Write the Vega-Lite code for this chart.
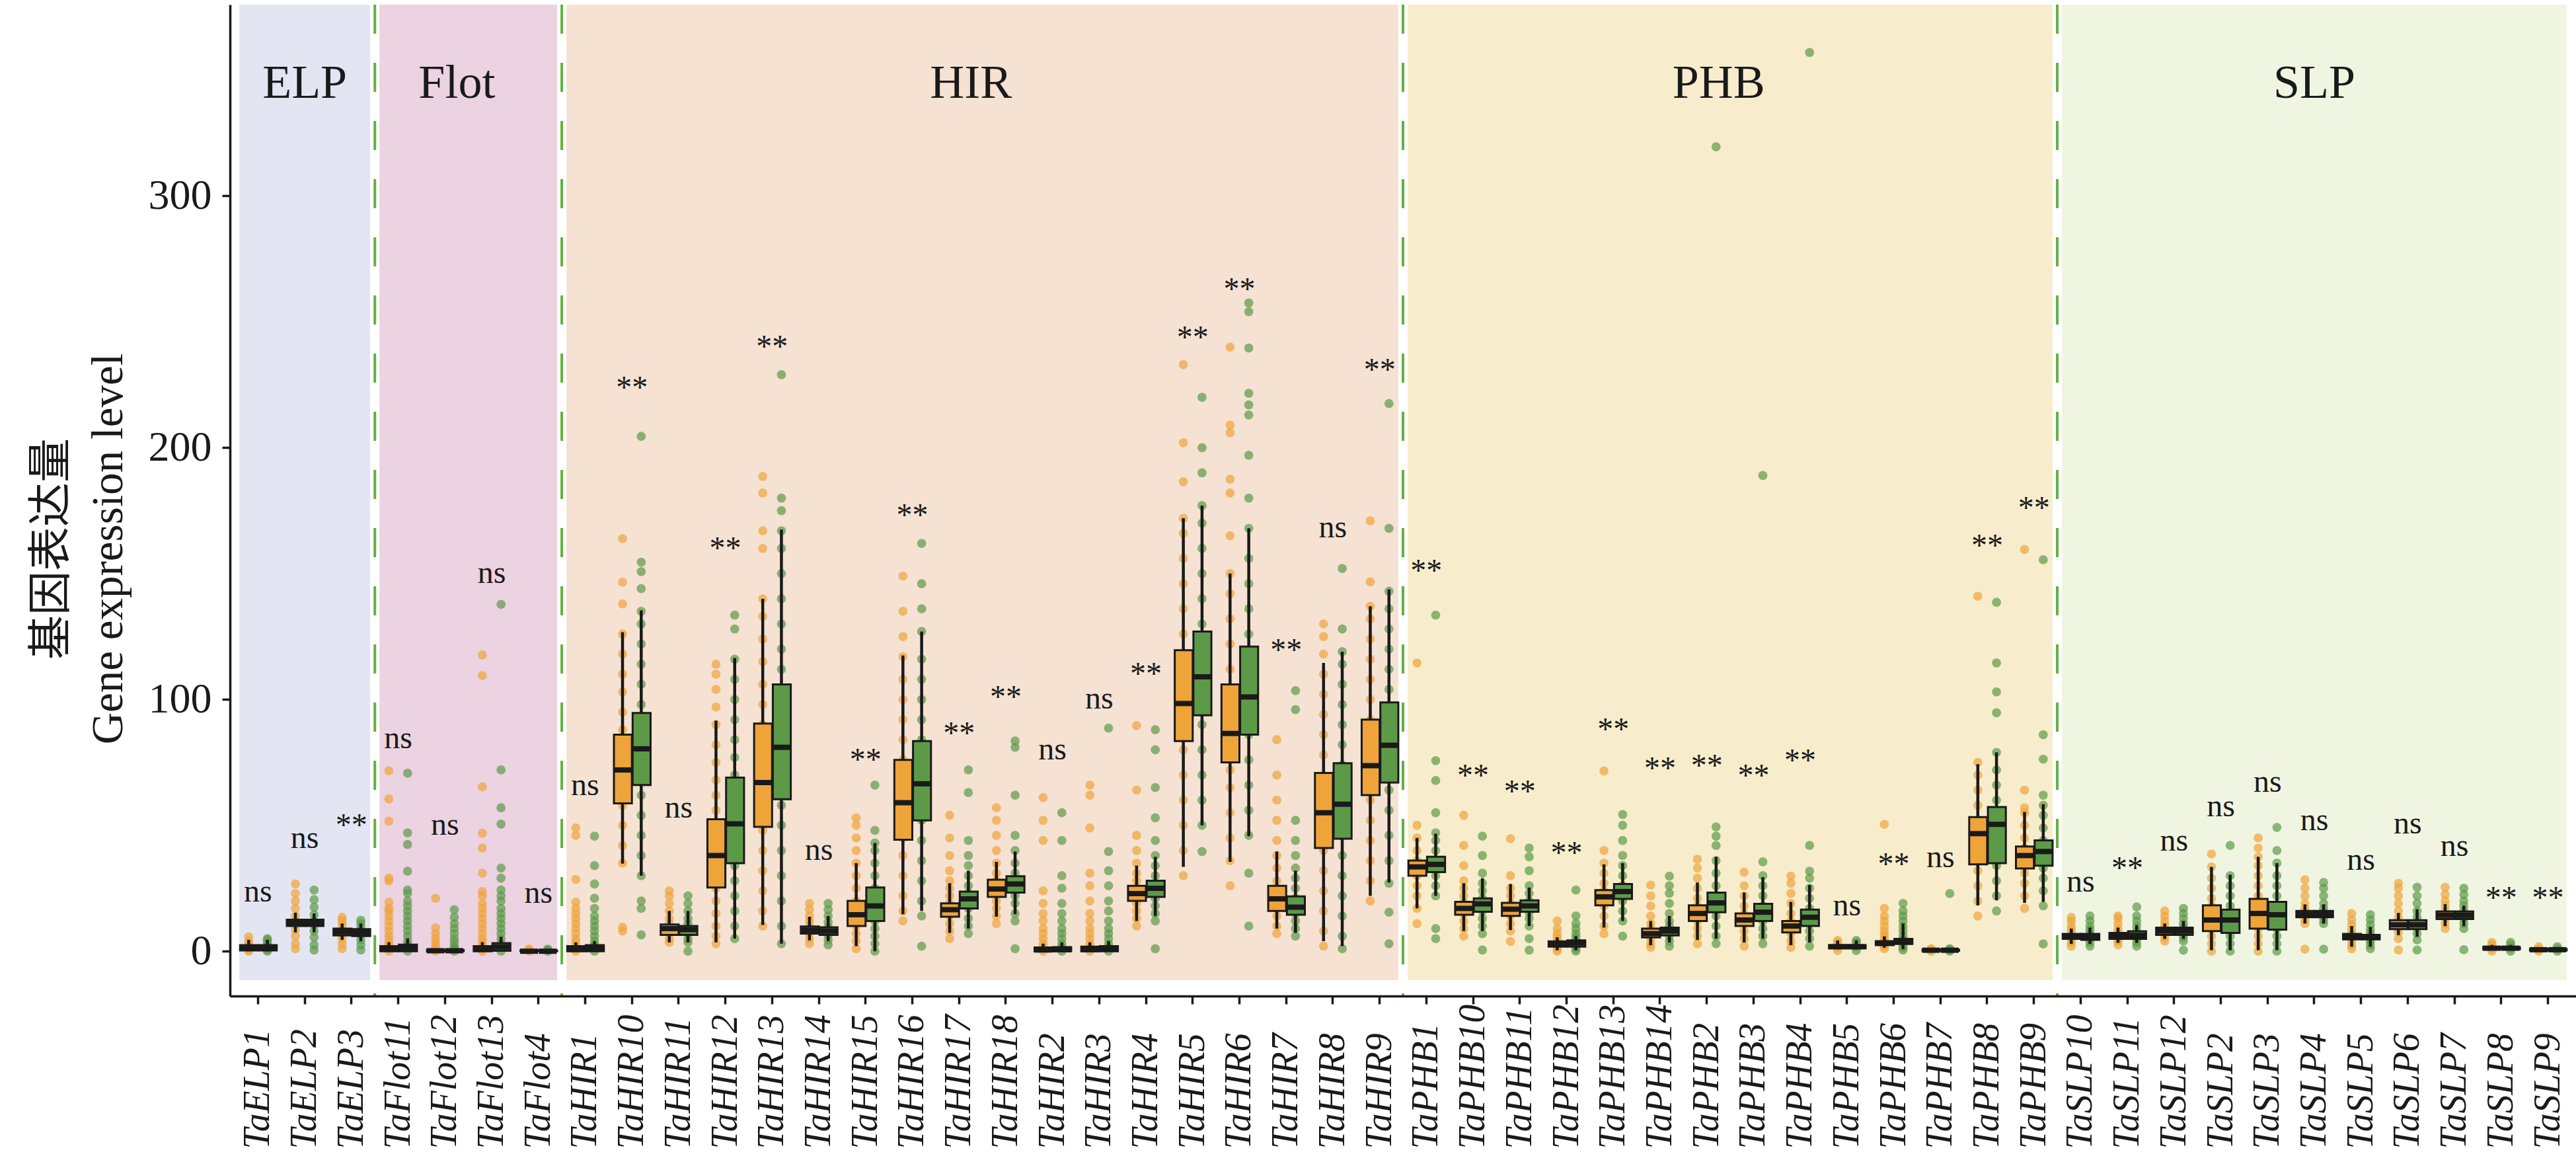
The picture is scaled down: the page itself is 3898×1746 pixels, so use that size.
{
  "$schema": "https://vega.github.io/schema/vega-lite/v6.json",
  "width": 3550,
  "height": 1500,
  "autosize": {"type": "none"},
  "padding": {"left": 348, "top": 7, "right": 0, "bottom": 239},
  "background": "white",
  "datasets": {
    "families": [
      {"family": "ELP", "first": "TaELP1", "last": "TaELP3", "mid": "TaELP2"},
      {"family": "Flot", "first": "TaFlot11", "last": "TaFlot4", "mid": "TaFlot12"},
      {"family": "HIR", "first": "TaHIR1", "last": "TaHIR9", "mid": "TaHIR17"},
      {"family": "PHB", "first": "TaPHB1", "last": "TaPHB9", "mid": "TaPHB2"},
      {"family": "SLP", "first": "TaSLP10", "last": "TaSLP9", "mid": "TaSLP4"}
    ],
    "boxes": [
      {"gene": "TaELP1", "grp": "1", "lo": 0, "q1": 0.3, "med": 1.1, "q3": 2.4, "hi": 4.5},
      {"gene": "TaELP1", "grp": "2", "lo": 0, "q1": 0.3, "med": 1.1, "q3": 2.4, "hi": 4.5},
      {"gene": "TaELP2", "grp": "1", "lo": 7.5, "q1": 10, "med": 11.3, "q3": 12.5, "hi": 15.3},
      {"gene": "TaELP2", "grp": "2", "lo": 7.5, "q1": 10, "med": 11.3, "q3": 12.5, "hi": 15},
      {"gene": "TaELP3", "grp": "1", "lo": 4.5, "q1": 6.3, "med": 7.7, "q3": 9, "hi": 11},
      {"gene": "TaELP3", "grp": "2", "lo": 4, "q1": 6, "med": 7.4, "q3": 8.8, "hi": 11},
      {"gene": "TaFlot11", "grp": "1", "lo": 0, "q1": 0, "med": 0.8, "q3": 2, "hi": 3.6},
      {"gene": "TaFlot11", "grp": "2", "lo": 0, "q1": 0, "med": 1.4, "q3": 2.6, "hi": 5},
      {"gene": "TaFlot12", "grp": "1", "lo": 0, "q1": 0, "med": 0.2, "q3": 0.5, "hi": 1},
      {"gene": "TaFlot12", "grp": "2", "lo": 0, "q1": 0, "med": 0.2, "q3": 0.5, "hi": 1},
      {"gene": "TaFlot13", "grp": "1", "lo": 0, "q1": 0, "med": 0.8, "q3": 2, "hi": 3.6},
      {"gene": "TaFlot13", "grp": "2", "lo": 0, "q1": 0.2, "med": 1.7, "q3": 3.2, "hi": 5.7},
      {"gene": "TaFlot4", "grp": "1", "lo": 0, "q1": 0, "med": 0, "q3": 0.3, "hi": 0.6},
      {"gene": "TaFlot4", "grp": "2", "lo": 0, "q1": 0, "med": 0, "q3": 0.3, "hi": 0.6},
      {"gene": "TaHIR1", "grp": "1", "lo": 0, "q1": 0, "med": 0.8, "q3": 2, "hi": 3.5},
      {"gene": "TaHIR1", "grp": "2", "lo": 0, "q1": 0, "med": 1.2, "q3": 2.4, "hi": 4},
      {"gene": "TaHIR10", "grp": "1", "lo": 34.8, "q1": 58.7, "med": 72, "q3": 86, "hi": 126.7},
      {"gene": "TaHIR10", "grp": "2", "lo": 30, "q1": 66, "med": 80.4, "q3": 94.6, "hi": 135.4},
      {"gene": "TaHIR11", "grp": "1", "lo": 3.5, "q1": 6.5, "med": 9, "q3": 10.6, "hi": 16},
      {"gene": "TaHIR11", "grp": "2", "lo": 3.5, "q1": 6.5, "med": 8.6, "q3": 10, "hi": 16},
      {"gene": "TaHIR12", "grp": "1", "lo": 3.5, "q1": 25.3, "med": 38, "q3": 52.4, "hi": 91.6},
      {"gene": "TaHIR12", "grp": "2", "lo": 5, "q1": 35, "med": 50.6, "q3": 69, "hi": 116.5},
      {"gene": "TaHIR13", "grp": "1", "lo": 10.4, "q1": 49.4, "med": 67, "q3": 90.4, "hi": 140},
      {"gene": "TaHIR13", "grp": "2", "lo": 3, "q1": 60.4, "med": 81, "q3": 106, "hi": 167.5},
      {"gene": "TaHIR14", "grp": "1", "lo": 4.3, "q1": 7, "med": 8.4, "q3": 9.8, "hi": 13.7},
      {"gene": "TaHIR14", "grp": "2", "lo": 4, "q1": 6.5, "med": 8, "q3": 9.5, "hi": 14},
      {"gene": "TaHIR15", "grp": "1", "lo": 2, "q1": 10, "med": 14.5, "q3": 20, "hi": 35},
      {"gene": "TaHIR15", "grp": "2", "lo": 0, "q1": 12, "med": 18, "q3": 25.3, "hi": 43},
      {"gene": "TaHIR16", "grp": "1", "lo": 14.7, "q1": 44.3, "med": 59, "q3": 76, "hi": 117.5},
      {"gene": "TaHIR16", "grp": "2", "lo": 16, "q1": 52, "med": 66.5, "q3": 83.5, "hi": 127},
      {"gene": "TaHIR17", "grp": "1", "lo": 7.3, "q1": 13.7, "med": 16.5, "q3": 19, "hi": 27},
      {"gene": "TaHIR17", "grp": "2", "lo": 9, "q1": 17, "med": 20.8, "q3": 23.7, "hi": 32},
      {"gene": "TaHIR18", "grp": "1", "lo": 13.7, "q1": 21.6, "med": 24.7, "q3": 28.4, "hi": 35.5},
      {"gene": "TaHIR18", "grp": "2", "lo": 14.7, "q1": 23.3, "med": 26.7, "q3": 29.8, "hi": 39.6},
      {"gene": "TaHIR2", "grp": "1", "lo": 0, "q1": 0, "med": 0.5, "q3": 1.5, "hi": 3},
      {"gene": "TaHIR2", "grp": "2", "lo": 0, "q1": 0, "med": 0.6, "q3": 1.6, "hi": 3.5},
      {"gene": "TaHIR3", "grp": "1", "lo": 0, "q1": 0, "med": 0.6, "q3": 1.8, "hi": 3.5},
      {"gene": "TaHIR3", "grp": "2", "lo": 0, "q1": 0, "med": 0.8, "q3": 2, "hi": 4},
      {"gene": "TaHIR4", "grp": "1", "lo": 12, "q1": 20, "med": 22.9, "q3": 26, "hi": 34},
      {"gene": "TaHIR4", "grp": "2", "lo": 14, "q1": 21.6, "med": 25, "q3": 28, "hi": 37.5},
      {"gene": "TaHIR5", "grp": "1", "lo": 33.5, "q1": 83.5, "med": 98.4, "q3": 119.6, "hi": 172},
      {"gene": "TaHIR5", "grp": "2", "lo": 50, "q1": 93.7, "med": 109, "q3": 127, "hi": 177},
      {"gene": "TaHIR6", "grp": "1", "lo": 35.5, "q1": 75, "med": 86.5, "q3": 106, "hi": 150},
      {"gene": "TaHIR6", "grp": "2", "lo": 45.7, "q1": 86, "med": 101, "q3": 121, "hi": 168},
      {"gene": "TaHIR7", "grp": "1", "lo": 9, "q1": 16, "med": 20.8, "q3": 26, "hi": 39.6},
      {"gene": "TaHIR7", "grp": "2", "lo": 7.3, "q1": 14.5, "med": 17.5, "q3": 21.8, "hi": 32},
      {"gene": "TaHIR8", "grp": "1", "lo": 4, "q1": 41, "med": 55, "q3": 70.8, "hi": 114.5},
      {"gene": "TaHIR8", "grp": "2", "lo": 2, "q1": 44.7, "med": 58.4, "q3": 74.7, "hi": 119},
      {"gene": "TaHIR9", "grp": "1", "lo": 22, "q1": 62, "med": 73.7, "q3": 92, "hi": 137},
      {"gene": "TaHIR9", "grp": "2", "lo": 27.3, "q1": 67, "med": 81.8, "q3": 98.8, "hi": 143.7},
      {"gene": "TaPHB1", "grp": "1", "lo": 17, "q1": 30, "med": 33.5, "q3": 36, "hi": 45},
      {"gene": "TaPHB1", "grp": "2", "lo": 22, "q1": 31.4, "med": 34.5, "q3": 37.5, "hi": 46.7},
      {"gene": "TaPHB10", "grp": "1", "lo": 8, "q1": 14.5, "med": 17, "q3": 19.6, "hi": 27},
      {"gene": "TaPHB10", "grp": "2", "lo": 8, "q1": 15.7, "med": 18.8, "q3": 21, "hi": 29},
      {"gene": "TaPHB11", "grp": "1", "lo": 8.4, "q1": 14, "med": 16.7, "q3": 19.2, "hi": 26.7},
      {"gene": "TaPHB11", "grp": "2", "lo": 10, "q1": 15.7, "med": 18, "q3": 20.2, "hi": 25.3},
      {"gene": "TaPHB12", "grp": "1", "lo": 0.4, "q1": 1.8, "med": 2.9, "q3": 3.9, "hi": 5.5},
      {"gene": "TaPHB12", "grp": "2", "lo": 0.4, "q1": 1.8, "med": 3.3, "q3": 4.3, "hi": 6},
      {"gene": "TaPHB13", "grp": "1", "lo": 9.4, "q1": 18.2, "med": 21.6, "q3": 24.3, "hi": 34.5},
      {"gene": "TaPHB13", "grp": "2", "lo": 12, "q1": 20.8, "med": 23.7, "q3": 26.7, "hi": 35},
      {"gene": "TaPHB14", "grp": "1", "lo": 2.4, "q1": 5.5, "med": 7, "q3": 9, "hi": 12},
      {"gene": "TaPHB14", "grp": "2", "lo": 3.5, "q1": 6.3, "med": 8, "q3": 9.4, "hi": 14},
      {"gene": "TaPHB2", "grp": "1", "lo": 4.5, "q1": 12, "med": 15, "q3": 18.2, "hi": 27.3},
      {"gene": "TaPHB2", "grp": "2", "lo": 5, "q1": 15.5, "med": 19.2, "q3": 23.3, "hi": 37.5},
      {"gene": "TaPHB3", "grp": "1", "lo": 3.5, "q1": 10, "med": 12.4, "q3": 15, "hi": 23.3},
      {"gene": "TaPHB3", "grp": "2", "lo": 5, "q1": 12, "med": 15.5, "q3": 18.8, "hi": 29.4},
      {"gene": "TaPHB4", "grp": "1", "lo": 2.4, "q1": 7.5, "med": 10, "q3": 12, "hi": 19.6},
      {"gene": "TaPHB4", "grp": "2", "lo": 3.5, "q1": 10, "med": 13.5, "q3": 16.5, "hi": 26.3},
      {"gene": "TaPHB5", "grp": "1", "lo": 0.8, "q1": 1.2, "med": 1.8, "q3": 2.4, "hi": 4.3},
      {"gene": "TaPHB5", "grp": "2", "lo": 0.8, "q1": 1.2, "med": 1.8, "q3": 2.4, "hi": 4.3},
      {"gene": "TaPHB6", "grp": "1", "lo": 1.4, "q1": 2.4, "med": 3.3, "q3": 3.9, "hi": 5.9},
      {"gene": "TaPHB6", "grp": "2", "lo": 0.8, "q1": 2.9, "med": 3.9, "q3": 4.9, "hi": 11},
      {"gene": "TaPHB7", "grp": "1", "lo": 0, "q1": 0.2, "med": 0.4, "q3": 0.6, "hi": 1},
      {"gene": "TaPHB7", "grp": "2", "lo": 0, "q1": 0.2, "med": 0.4, "q3": 0.6, "hi": 1},
      {"gene": "TaPHB8", "grp": "1", "lo": 18.2, "q1": 34.5, "med": 46.7, "q3": 53.3, "hi": 74.3},
      {"gene": "TaPHB8", "grp": "2", "lo": 20.2, "q1": 35, "med": 50.4, "q3": 57.3, "hi": 79},
      {"gene": "TaPHB9", "grp": "1", "lo": 19.2, "q1": 32.9, "med": 38, "q3": 41.6, "hi": 55.3},
      {"gene": "TaPHB9", "grp": "2", "lo": 19.6, "q1": 34, "med": 39.6, "q3": 44, "hi": 58.4},
      {"gene": "TaSLP10", "grp": "1", "lo": 2.9, "q1": 4.9, "med": 5.9, "q3": 6.9, "hi": 9},
      {"gene": "TaSLP10", "grp": "2", "lo": 2.9, "q1": 4.5, "med": 5.7, "q3": 6.9, "hi": 9.4},
      {"gene": "TaSLP11", "grp": "1", "lo": 3.3, "q1": 4.9, "med": 6, "q3": 7.3, "hi": 9.4},
      {"gene": "TaSLP11", "grp": "2", "lo": 3.3, "q1": 4.9, "med": 6.3, "q3": 7.9, "hi": 10.4},
      {"gene": "TaSLP12", "grp": "1", "lo": 4.9, "q1": 6.5, "med": 8, "q3": 9.4, "hi": 11},
      {"gene": "TaSLP12", "grp": "2", "lo": 4.9, "q1": 6.5, "med": 8, "q3": 9.4, "hi": 12},
      {"gene": "TaSLP2", "grp": "1", "lo": 0.4, "q1": 8, "med": 12.4, "q3": 18.2, "hi": 33.5},
      {"gene": "TaSLP2", "grp": "2", "lo": 0.4, "q1": 7.3, "med": 12.4, "q3": 16.5, "hi": 30.4},
      {"gene": "TaSLP3", "grp": "1", "lo": 0.4, "q1": 9, "med": 15, "q3": 20.8, "hi": 37.5},
      {"gene": "TaSLP3", "grp": "2", "lo": 0.4, "q1": 8.6, "med": 14.5, "q3": 19.6, "hi": 35},
      {"gene": "TaSLP4", "grp": "1", "lo": 11, "q1": 13.5, "med": 14.7, "q3": 16, "hi": 18.6},
      {"gene": "TaSLP4", "grp": "2", "lo": 11, "q1": 13.5, "med": 14.7, "q3": 16, "hi": 18.6},
      {"gene": "TaSLP5", "grp": "1", "lo": 1.8, "q1": 4.7, "med": 5.7, "q3": 6.9, "hi": 10},
      {"gene": "TaSLP5", "grp": "2", "lo": 1.8, "q1": 4.7, "med": 5.5, "q3": 6.5, "hi": 9.6},
      {"gene": "TaSLP6", "grp": "1", "lo": 6.4, "q1": 8.8, "med": 10.5, "q3": 12.3, "hi": 15.2},
      {"gene": "TaSLP6", "grp": "2", "lo": 5.8, "q1": 8.8, "med": 10.5, "q3": 12.3, "hi": 16.7},
      {"gene": "TaSLP7", "grp": "1", "lo": 10, "q1": 12.8, "med": 14.3, "q3": 15.8, "hi": 18.7},
      {"gene": "TaSLP7", "grp": "2", "lo": 10, "q1": 12.8, "med": 14.3, "q3": 15.8, "hi": 18.1},
      {"gene": "TaSLP8", "grp": "1", "lo": 0.3, "q1": 0.8, "med": 1.2, "q3": 1.6, "hi": 2.5},
      {"gene": "TaSLP8", "grp": "2", "lo": 0.3, "q1": 0.8, "med": 1.2, "q3": 1.6, "hi": 2.5},
      {"gene": "TaSLP9", "grp": "1", "lo": 0, "q1": 0.3, "med": 0.6, "q3": 0.9, "hi": 1.5},
      {"gene": "TaSLP9", "grp": "2", "lo": 0, "q1": 0.3, "med": 0.6, "q3": 0.9, "hi": 1.5}
    ],
    "sig": [
      {"gene": "TaELP1", "label": "ns", "y": 19.8},
      {"gene": "TaELP2", "label": "ns", "y": 40.9},
      {"gene": "TaELP3", "label": "**", "y": 46},
      {"gene": "TaFlot11", "label": "ns", "y": 80.7},
      {"gene": "TaFlot12", "label": "ns", "y": 46.3},
      {"gene": "TaFlot13", "label": "ns", "y": 146.3},
      {"gene": "TaFlot4", "label": "ns", "y": 19.3},
      {"gene": "TaHIR1", "label": "ns", "y": 62},
      {"gene": "TaHIR10", "label": "**", "y": 219.7},
      {"gene": "TaHIR11", "label": "ns", "y": 53},
      {"gene": "TaHIR12", "label": "**", "y": 156},
      {"gene": "TaHIR13", "label": "**", "y": 236},
      {"gene": "TaHIR14", "label": "ns", "y": 36.3},
      {"gene": "TaHIR15", "label": "**", "y": 72},
      {"gene": "TaHIR16", "label": "**", "y": 169},
      {"gene": "TaHIR17", "label": "**", "y": 82.6},
      {"gene": "TaHIR18", "label": "**", "y": 97},
      {"gene": "TaHIR2", "label": "ns", "y": 76.3},
      {"gene": "TaHIR3", "label": "ns", "y": 96.3},
      {"gene": "TaHIR4", "label": "**", "y": 106},
      {"gene": "TaHIR5", "label": "**", "y": 239.7},
      {"gene": "TaHIR6", "label": "**", "y": 259},
      {"gene": "TaHIR7", "label": "**", "y": 115.6},
      {"gene": "TaHIR8", "label": "ns", "y": 164.3},
      {"gene": "TaHIR9", "label": "**", "y": 227},
      {"gene": "TaPHB1", "label": "**", "y": 147},
      {"gene": "TaPHB10", "label": "**", "y": 65.6},
      {"gene": "TaPHB11", "label": "**", "y": 59.5},
      {"gene": "TaPHB12", "label": "**", "y": 35},
      {"gene": "TaPHB13", "label": "**", "y": 84},
      {"gene": "TaPHB14", "label": "**", "y": 68.7},
      {"gene": "TaPHB2", "label": "**", "y": 69.7},
      {"gene": "TaPHB3", "label": "**", "y": 65.6},
      {"gene": "TaPHB4", "label": "**", "y": 71.8},
      {"gene": "TaPHB5", "label": "ns", "y": 14.3},
      {"gene": "TaPHB6", "label": "**", "y": 30.5},
      {"gene": "TaPHB7", "label": "ns", "y": 33.3},
      {"gene": "TaPHB8", "label": "**", "y": 157},
      {"gene": "TaPHB9", "label": "**", "y": 172},
      {"gene": "TaSLP10", "label": "ns", "y": 23.6},
      {"gene": "TaSLP11", "label": "**", "y": 29},
      {"gene": "TaSLP12", "label": "ns", "y": 39.9},
      {"gene": "TaSLP2", "label": "ns", "y": 53.6},
      {"gene": "TaSLP3", "label": "ns", "y": 63.3},
      {"gene": "TaSLP4", "label": "ns", "y": 48.1},
      {"gene": "TaSLP5", "label": "ns", "y": 32.3},
      {"gene": "TaSLP6", "label": "ns", "y": 46.7},
      {"gene": "TaSLP7", "label": "ns", "y": 37.9},
      {"gene": "TaSLP8", "label": "**", "y": 17},
      {"gene": "TaSLP9", "label": "**", "y": 17}
    ],
    "points": [
      {"gene":"TaELP1","grp":"1","v":0},{"gene":"TaELP1","grp":"1","v":0.5},{"gene":"TaELP1","grp":"1","v":1},{"gene":"TaELP1","grp":"1","v":1.5},{"gene":"TaELP1","grp":"1","v":2.2},{"gene":"TaELP1","grp":"1","v":3},{"gene":"TaELP1","grp":"1","v":4},{"gene":"TaELP1","grp":"1","v":5.7},
      {"gene":"TaELP1","grp":"2","v":0},{"gene":"TaELP1","grp":"2","v":0.6},{"gene":"TaELP1","grp":"2","v":1.2},{"gene":"TaELP1","grp":"2","v":1.8},{"gene":"TaELP1","grp":"2","v":2.5},{"gene":"TaELP1","grp":"2","v":3.3},{"gene":"TaELP1","grp":"2","v":4.5},{"gene":"TaELP1","grp":"2","v":5},
      {"gene":"TaELP2","grp":"1","v":1},{"gene":"TaELP2","grp":"1","v":3},{"gene":"TaELP2","grp":"1","v":6},{"gene":"TaELP2","grp":"1","v":8.5},{"gene":"TaELP2","grp":"1","v":10.5},{"gene":"TaELP2","grp":"1","v":12},{"gene":"TaELP2","grp":"1","v":14},{"gene":"TaELP2","grp":"1","v":17},{"gene":"TaELP2","grp":"1","v":20},{"gene":"TaELP2","grp":"1","v":23},{"gene":"TaELP2","grp":"1","v":26.7},
      {"gene":"TaELP2","grp":"2","v":0.5},{"gene":"TaELP2","grp":"2","v":2.5},{"gene":"TaELP2","grp":"2","v":5.5},{"gene":"TaELP2","grp":"2","v":8},{"gene":"TaELP2","grp":"2","v":10.5},{"gene":"TaELP2","grp":"2","v":12},{"gene":"TaELP2","grp":"2","v":14.5},{"gene":"TaELP2","grp":"2","v":17.5},{"gene":"TaELP2","grp":"2","v":20.5},{"gene":"TaELP2","grp":"2","v":24.3},
      {"gene":"TaELP3","grp":"1","v":1},{"gene":"TaELP3","grp":"1","v":3},{"gene":"TaELP3","grp":"1","v":5},{"gene":"TaELP3","grp":"1","v":6.5},{"gene":"TaELP3","grp":"1","v":8},{"gene":"TaELP3","grp":"1","v":9.5},{"gene":"TaELP3","grp":"1","v":11},{"gene":"TaELP3","grp":"1","v":12.3},{"gene":"TaELP3","grp":"1","v":13.5},
      {"gene":"TaELP3","grp":"2","v":0.5},{"gene":"TaELP3","grp":"2","v":2.5},{"gene":"TaELP3","grp":"2","v":4.5},{"gene":"TaELP3","grp":"2","v":6.5},{"gene":"TaELP3","grp":"2","v":8},{"gene":"TaELP3","grp":"2","v":9.5},{"gene":"TaELP3","grp":"2","v":11},{"gene":"TaELP3","grp":"2","v":12.3},
      {"gene":"TaFlot11","grp":"1","v":0},{"gene":"TaFlot11","grp":"1","v":1},{"gene":"TaFlot11","grp":"1","v":2},{"gene":"TaFlot11","grp":"1","v":3},{"gene":"TaFlot11","grp":"1","v":4.5},{"gene":"TaFlot11","grp":"1","v":6},{"gene":"TaFlot11","grp":"1","v":8},{"gene":"TaFlot11","grp":"1","v":10},{"gene":"TaFlot11","grp":"1","v":12},{"gene":"TaFlot11","grp":"1","v":14},{"gene":"TaFlot11","grp":"1","v":16},{"gene":"TaFlot11","grp":"1","v":17},{"gene":"TaFlot11","grp":"1","v":19.5},{"gene":"TaFlot11","grp":"1","v":28},{"gene":"TaFlot11","grp":"1","v":29},{"gene":"TaFlot11","grp":"1","v":51.7},{"gene":"TaFlot11","grp":"1","v":60.5},{"gene":"TaFlot11","grp":"1","v":71.7},
      {"gene":"TaFlot11","grp":"2","v":0},{"gene":"TaFlot11","grp":"2","v":1.5},{"gene":"TaFlot11","grp":"2","v":2.5},{"gene":"TaFlot11","grp":"2","v":4},{"gene":"TaFlot11","grp":"2","v":6},{"gene":"TaFlot11","grp":"2","v":8},{"gene":"TaFlot11","grp":"2","v":10},{"gene":"TaFlot11","grp":"2","v":12},{"gene":"TaFlot11","grp":"2","v":14},{"gene":"TaFlot11","grp":"2","v":16},{"gene":"TaFlot11","grp":"2","v":18},{"gene":"TaFlot11","grp":"2","v":20},{"gene":"TaFlot11","grp":"2","v":23},{"gene":"TaFlot11","grp":"2","v":24.3},{"gene":"TaFlot11","grp":"2","v":31.8},{"gene":"TaFlot11","grp":"2","v":42.4},{"gene":"TaFlot11","grp":"2","v":47},{"gene":"TaFlot11","grp":"2","v":70.7},
      {"gene":"TaFlot12","grp":"1","v":0},{"gene":"TaFlot12","grp":"1","v":1},{"gene":"TaFlot12","grp":"1","v":2},{"gene":"TaFlot12","grp":"1","v":3.5},{"gene":"TaFlot12","grp":"1","v":5},{"gene":"TaFlot12","grp":"1","v":7},{"gene":"TaFlot12","grp":"1","v":9.3},{"gene":"TaFlot12","grp":"1","v":21},
      {"gene":"TaFlot12","grp":"2","v":0},{"gene":"TaFlot12","grp":"2","v":1},{"gene":"TaFlot12","grp":"2","v":2},{"gene":"TaFlot12","grp":"2","v":3.5},{"gene":"TaFlot12","grp":"2","v":5},{"gene":"TaFlot12","grp":"2","v":7},{"gene":"TaFlot12","grp":"2","v":9},{"gene":"TaFlot12","grp":"2","v":11},{"gene":"TaFlot12","grp":"2","v":13.5},{"gene":"TaFlot12","grp":"2","v":16.5},
      {"gene":"TaFlot13","grp":"1","v":0},{"gene":"TaFlot13","grp":"1","v":1},{"gene":"TaFlot13","grp":"1","v":2},{"gene":"TaFlot13","grp":"1","v":3.5},{"gene":"TaFlot13","grp":"1","v":5},{"gene":"TaFlot13","grp":"1","v":7},{"gene":"TaFlot13","grp":"1","v":9},{"gene":"TaFlot13","grp":"1","v":11},{"gene":"TaFlot13","grp":"1","v":13},{"gene":"TaFlot13","grp":"1","v":15},{"gene":"TaFlot13","grp":"1","v":17},{"gene":"TaFlot13","grp":"1","v":19},{"gene":"TaFlot13","grp":"1","v":22},{"gene":"TaFlot13","grp":"1","v":23.7},{"gene":"TaFlot13","grp":"1","v":31},{"gene":"TaFlot13","grp":"1","v":41},{"gene":"TaFlot13","grp":"1","v":46.9},{"gene":"TaFlot13","grp":"1","v":65.3},{"gene":"TaFlot13","grp":"1","v":109.5},{"gene":"TaFlot13","grp":"1","v":117.7},
      {"gene":"TaFlot13","grp":"2","v":0},{"gene":"TaFlot13","grp":"2","v":1.5},{"gene":"TaFlot13","grp":"2","v":3},{"gene":"TaFlot13","grp":"2","v":5},{"gene":"TaFlot13","grp":"2","v":7},{"gene":"TaFlot13","grp":"2","v":9},{"gene":"TaFlot13","grp":"2","v":11},{"gene":"TaFlot13","grp":"2","v":13},{"gene":"TaFlot13","grp":"2","v":15},{"gene":"TaFlot13","grp":"2","v":17},{"gene":"TaFlot13","grp":"2","v":20},{"gene":"TaFlot13","grp":"2","v":22},{"gene":"TaFlot13","grp":"2","v":24.3},{"gene":"TaFlot13","grp":"2","v":29},{"gene":"TaFlot13","grp":"2","v":33},{"gene":"TaFlot13","grp":"2","v":50.5},{"gene":"TaFlot13","grp":"2","v":57},{"gene":"TaFlot13","grp":"2","v":72},{"gene":"TaFlot13","grp":"2","v":137.8},
      {"gene":"TaFlot4","grp":"1","v":0},{"gene":"TaFlot4","grp":"1","v":0.5},{"gene":"TaFlot4","grp":"1","v":0.9},
      {"gene":"TaFlot4","grp":"2","v":0},{"gene":"TaFlot4","grp":"2","v":0.5},{"gene":"TaFlot4","grp":"2","v":0.8},
      {"gene":"TaHIR1","grp":"1","v":0},{"gene":"TaHIR1","grp":"1","v":1},{"gene":"TaHIR1","grp":"1","v":2},{"gene":"TaHIR1","grp":"1","v":3.5},{"gene":"TaHIR1","grp":"1","v":5},{"gene":"TaHIR1","grp":"1","v":7},{"gene":"TaHIR1","grp":"1","v":9},{"gene":"TaHIR1","grp":"1","v":11},{"gene":"TaHIR1","grp":"1","v":13},{"gene":"TaHIR1","grp":"1","v":15},{"gene":"TaHIR1","grp":"1","v":17},{"gene":"TaHIR1","grp":"1","v":19.5},{"gene":"TaHIR1","grp":"1","v":28.5},{"gene":"TaHIR1","grp":"1","v":46},{"gene":"TaHIR1","grp":"1","v":49},
      {"gene":"TaHIR1","grp":"2","v":0},{"gene":"TaHIR1","grp":"2","v":1.5},{"gene":"TaHIR1","grp":"2","v":2.5},{"gene":"TaHIR1","grp":"2","v":4},{"gene":"TaHIR1","grp":"2","v":6},{"gene":"TaHIR1","grp":"2","v":8},{"gene":"TaHIR1","grp":"2","v":10},{"gene":"TaHIR1","grp":"2","v":12},{"gene":"TaHIR1","grp":"2","v":14},{"gene":"TaHIR1","grp":"2","v":17},{"gene":"TaHIR1","grp":"2","v":21},{"gene":"TaHIR1","grp":"2","v":26.7},{"gene":"TaHIR1","grp":"2","v":34},{"gene":"TaHIR1","grp":"2","v":45.7},
      {"gene":"TaHIR10","grp":"1","v":8},{"gene":"TaHIR10","grp":"1","v":9.5},{"gene":"TaHIR10","grp":"1","v":35},{"gene":"TaHIR10","grp":"1","v":42},{"gene":"TaHIR10","grp":"1","v":50},{"gene":"TaHIR10","grp":"1","v":58},{"gene":"TaHIR10","grp":"1","v":64},{"gene":"TaHIR10","grp":"1","v":70},{"gene":"TaHIR10","grp":"1","v":76},{"gene":"TaHIR10","grp":"1","v":82},{"gene":"TaHIR10","grp":"1","v":88},{"gene":"TaHIR10","grp":"1","v":95},{"gene":"TaHIR10","grp":"1","v":103},{"gene":"TaHIR10","grp":"1","v":110},{"gene":"TaHIR10","grp":"1","v":118},{"gene":"TaHIR10","grp":"1","v":126},{"gene":"TaHIR10","grp":"1","v":138},{"gene":"TaHIR10","grp":"1","v":146.6},{"gene":"TaHIR10","grp":"1","v":163.9},
      {"gene":"TaHIR10","grp":"2","v":6.5},{"gene":"TaHIR10","grp":"2","v":17},{"gene":"TaHIR10","grp":"2","v":20},{"gene":"TaHIR10","grp":"2","v":30},{"gene":"TaHIR10","grp":"2","v":38},{"gene":"TaHIR10","grp":"2","v":46},{"gene":"TaHIR10","grp":"2","v":54},{"gene":"TaHIR10","grp":"2","v":62},{"gene":"TaHIR10","grp":"2","v":68},{"gene":"TaHIR10","grp":"2","v":74},{"gene":"TaHIR10","grp":"2","v":80},{"gene":"TaHIR10","grp":"2","v":86},{"gene":"TaHIR10","grp":"2","v":92},{"gene":"TaHIR10","grp":"2","v":98},{"gene":"TaHIR10","grp":"2","v":106},{"gene":"TaHIR10","grp":"2","v":114},{"gene":"TaHIR10","grp":"2","v":122},{"gene":"TaHIR10","grp":"2","v":130},{"gene":"TaHIR10","grp":"2","v":135},{"gene":"TaHIR10","grp":"2","v":144},{"gene":"TaHIR10","grp":"2","v":150.8},{"gene":"TaHIR10","grp":"2","v":154.5},{"gene":"TaHIR10","grp":"2","v":204.5},
      {"gene":"TaHIR11","grp":"1","v":3.5},{"gene":"TaHIR11","grp":"1","v":5},{"gene":"TaHIR11","grp":"1","v":7},{"gene":"TaHIR11","grp":"1","v":9},{"gene":"TaHIR11","grp":"1","v":11},{"gene":"TaHIR11","grp":"1","v":13},{"gene":"TaHIR11","grp":"1","v":16},{"gene":"TaHIR11","grp":"1","v":19},{"gene":"TaHIR11","grp":"1","v":22},{"gene":"TaHIR11","grp":"1","v":24},
      {"gene":"TaHIR11","grp":"2","v":0},{"gene":"TaHIR11","grp":"2","v":3.5},{"gene":"TaHIR11","grp":"2","v":5},{"gene":"TaHIR11","grp":"2","v":7},{"gene":"TaHIR11","grp":"2","v":9},{"gene":"TaHIR11","grp":"2","v":11},{"gene":"TaHIR11","grp":"2","v":13},{"gene":"TaHIR11","grp":"2","v":16},{"gene":"TaHIR11","grp":"2","v":19},{"gene":"TaHIR11","grp":"2","v":22},
      {"gene":"TaHIR12","grp":"1","v":3},{"gene":"TaHIR12","grp":"1","v":6},{"gene":"TaHIR12","grp":"1","v":10},{"gene":"TaHIR12","grp":"1","v":15},{"gene":"TaHIR12","grp":"1","v":20},{"gene":"TaHIR12","grp":"1","v":25},{"gene":"TaHIR12","grp":"1","v":30},{"gene":"TaHIR12","grp":"1","v":35},{"gene":"TaHIR12","grp":"1","v":40},{"gene":"TaHIR12","grp":"1","v":45},{"gene":"TaHIR12","grp":"1","v":50},{"gene":"TaHIR12","grp":"1","v":56},{"gene":"TaHIR12","grp":"1","v":62},{"gene":"TaHIR12","grp":"1","v":68},{"gene":"TaHIR12","grp":"1","v":75},{"gene":"TaHIR12","grp":"1","v":82},{"gene":"TaHIR12","grp":"1","v":90},{"gene":"TaHIR12","grp":"1","v":97},{"gene":"TaHIR12","grp":"1","v":104},{"gene":"TaHIR12","grp":"1","v":110},{"gene":"TaHIR12","grp":"1","v":114},
      {"gene":"TaHIR12","grp":"2","v":5},{"gene":"TaHIR12","grp":"2","v":10},{"gene":"TaHIR12","grp":"2","v":16},{"gene":"TaHIR12","grp":"2","v":22},{"gene":"TaHIR12","grp":"2","v":28},{"gene":"TaHIR12","grp":"2","v":34},{"gene":"TaHIR12","grp":"2","v":40},{"gene":"TaHIR12","grp":"2","v":46},{"gene":"TaHIR12","grp":"2","v":52},{"gene":"TaHIR12","grp":"2","v":58},{"gene":"TaHIR12","grp":"2","v":64},{"gene":"TaHIR12","grp":"2","v":70},{"gene":"TaHIR12","grp":"2","v":77},{"gene":"TaHIR12","grp":"2","v":84},{"gene":"TaHIR12","grp":"2","v":92},{"gene":"TaHIR12","grp":"2","v":100},{"gene":"TaHIR12","grp":"2","v":108},{"gene":"TaHIR12","grp":"2","v":116},{"gene":"TaHIR12","grp":"2","v":128},{"gene":"TaHIR12","grp":"2","v":133.5},
      {"gene":"TaHIR13","grp":"1","v":10},{"gene":"TaHIR13","grp":"1","v":16},{"gene":"TaHIR13","grp":"1","v":24},{"gene":"TaHIR13","grp":"1","v":32},{"gene":"TaHIR13","grp":"1","v":40},{"gene":"TaHIR13","grp":"1","v":48},{"gene":"TaHIR13","grp":"1","v":55},{"gene":"TaHIR13","grp":"1","v":62},{"gene":"TaHIR13","grp":"1","v":68},{"gene":"TaHIR13","grp":"1","v":75},{"gene":"TaHIR13","grp":"1","v":82},{"gene":"TaHIR13","grp":"1","v":90},{"gene":"TaHIR13","grp":"1","v":98},{"gene":"TaHIR13","grp":"1","v":106},{"gene":"TaHIR13","grp":"1","v":115},{"gene":"TaHIR13","grp":"1","v":124},{"gene":"TaHIR13","grp":"1","v":133},{"gene":"TaHIR13","grp":"1","v":140},{"gene":"TaHIR13","grp":"1","v":160},{"gene":"TaHIR13","grp":"1","v":167},{"gene":"TaHIR13","grp":"1","v":182},{"gene":"TaHIR13","grp":"1","v":188.6},
      {"gene":"TaHIR13","grp":"2","v":3},{"gene":"TaHIR13","grp":"2","v":10},{"gene":"TaHIR13","grp":"2","v":20},{"gene":"TaHIR13","grp":"2","v":30},{"gene":"TaHIR13","grp":"2","v":40},{"gene":"TaHIR13","grp":"2","v":50},{"gene":"TaHIR13","grp":"2","v":58},{"gene":"TaHIR13","grp":"2","v":65},{"gene":"TaHIR13","grp":"2","v":72},{"gene":"TaHIR13","grp":"2","v":80},{"gene":"TaHIR13","grp":"2","v":88},{"gene":"TaHIR13","grp":"2","v":96},{"gene":"TaHIR13","grp":"2","v":104},{"gene":"TaHIR13","grp":"2","v":112},{"gene":"TaHIR13","grp":"2","v":120},{"gene":"TaHIR13","grp":"2","v":130},{"gene":"TaHIR13","grp":"2","v":140},{"gene":"TaHIR13","grp":"2","v":150},{"gene":"TaHIR13","grp":"2","v":160},{"gene":"TaHIR13","grp":"2","v":167},{"gene":"TaHIR13","grp":"2","v":175},{"gene":"TaHIR13","grp":"2","v":180},{"gene":"TaHIR13","grp":"2","v":229},
      {"gene":"TaHIR14","grp":"1","v":3},{"gene":"TaHIR14","grp":"1","v":5},{"gene":"TaHIR14","grp":"1","v":7},{"gene":"TaHIR14","grp":"1","v":8.5},{"gene":"TaHIR14","grp":"1","v":10},{"gene":"TaHIR14","grp":"1","v":12},{"gene":"TaHIR14","grp":"1","v":14},{"gene":"TaHIR14","grp":"1","v":16.5},{"gene":"TaHIR14","grp":"1","v":19},
      {"gene":"TaHIR14","grp":"2","v":2.5},{"gene":"TaHIR14","grp":"2","v":4.5},{"gene":"TaHIR14","grp":"2","v":6.5},{"gene":"TaHIR14","grp":"2","v":8},{"gene":"TaHIR14","grp":"2","v":9.5},{"gene":"TaHIR14","grp":"2","v":11.5},{"gene":"TaHIR14","grp":"2","v":14},{"gene":"TaHIR14","grp":"2","v":16.5},{"gene":"TaHIR14","grp":"2","v":19},
      {"gene":"TaHIR15","grp":"1","v":1},{"gene":"TaHIR15","grp":"1","v":4},{"gene":"TaHIR15","grp":"1","v":7},{"gene":"TaHIR15","grp":"1","v":10},{"gene":"TaHIR15","grp":"1","v":13},{"gene":"TaHIR15","grp":"1","v":16},{"gene":"TaHIR15","grp":"1","v":20},{"gene":"TaHIR15","grp":"1","v":25},{"gene":"TaHIR15","grp":"1","v":30},{"gene":"TaHIR15","grp":"1","v":35},{"gene":"TaHIR15","grp":"1","v":40},{"gene":"TaHIR15","grp":"1","v":45},{"gene":"TaHIR15","grp":"1","v":50},{"gene":"TaHIR15","grp":"1","v":53},
      {"gene":"TaHIR15","grp":"2","v":0},{"gene":"TaHIR15","grp":"2","v":3},{"gene":"TaHIR15","grp":"2","v":6},{"gene":"TaHIR15","grp":"2","v":9},{"gene":"TaHIR15","grp":"2","v":12},{"gene":"TaHIR15","grp":"2","v":16},{"gene":"TaHIR15","grp":"2","v":20},{"gene":"TaHIR15","grp":"2","v":25},{"gene":"TaHIR15","grp":"2","v":30},{"gene":"TaHIR15","grp":"2","v":35},{"gene":"TaHIR15","grp":"2","v":40},{"gene":"TaHIR15","grp":"2","v":43},{"gene":"TaHIR15","grp":"2","v":48},{"gene":"TaHIR15","grp":"2","v":66},
      {"gene":"TaHIR16","grp":"1","v":12},{"gene":"TaHIR16","grp":"1","v":16},{"gene":"TaHIR16","grp":"1","v":22},{"gene":"TaHIR16","grp":"1","v":30},{"gene":"TaHIR16","grp":"1","v":38},{"gene":"TaHIR16","grp":"1","v":45},{"gene":"TaHIR16","grp":"1","v":52},{"gene":"TaHIR16","grp":"1","v":58},{"gene":"TaHIR16","grp":"1","v":64},{"gene":"TaHIR16","grp":"1","v":70},{"gene":"TaHIR16","grp":"1","v":76},{"gene":"TaHIR16","grp":"1","v":84},{"gene":"TaHIR16","grp":"1","v":92},{"gene":"TaHIR16","grp":"1","v":100},{"gene":"TaHIR16","grp":"1","v":108},{"gene":"TaHIR16","grp":"1","v":117},{"gene":"TaHIR16","grp":"1","v":125},{"gene":"TaHIR16","grp":"1","v":135},{"gene":"TaHIR16","grp":"1","v":149},
      {"gene":"TaHIR16","grp":"2","v":2},{"gene":"TaHIR16","grp":"2","v":14},{"gene":"TaHIR16","grp":"2","v":20},{"gene":"TaHIR16","grp":"2","v":28},{"gene":"TaHIR16","grp":"2","v":36},{"gene":"TaHIR16","grp":"2","v":44},{"gene":"TaHIR16","grp":"2","v":52},{"gene":"TaHIR16","grp":"2","v":60},{"gene":"TaHIR16","grp":"2","v":66},{"gene":"TaHIR16","grp":"2","v":72},{"gene":"TaHIR16","grp":"2","v":78},{"gene":"TaHIR16","grp":"2","v":84},{"gene":"TaHIR16","grp":"2","v":92},{"gene":"TaHIR16","grp":"2","v":100},{"gene":"TaHIR16","grp":"2","v":108},{"gene":"TaHIR16","grp":"2","v":116},{"gene":"TaHIR16","grp":"2","v":127},{"gene":"TaHIR16","grp":"2","v":136},{"gene":"TaHIR16","grp":"2","v":146},{"gene":"TaHIR16","grp":"2","v":162},
      {"gene":"TaHIR17","grp":"1","v":5},{"gene":"TaHIR17","grp":"1","v":8},{"gene":"TaHIR17","grp":"1","v":11},{"gene":"TaHIR17","grp":"1","v":14},{"gene":"TaHIR17","grp":"1","v":16.5},{"gene":"TaHIR17","grp":"1","v":19},{"gene":"TaHIR17","grp":"1","v":22},{"gene":"TaHIR17","grp":"1","v":25},{"gene":"TaHIR17","grp":"1","v":28},{"gene":"TaHIR17","grp":"1","v":32},{"gene":"TaHIR17","grp":"1","v":38},{"gene":"TaHIR17","grp":"1","v":45},{"gene":"TaHIR17","grp":"1","v":54},
      {"gene":"TaHIR17","grp":"2","v":7},{"gene":"TaHIR17","grp":"2","v":10},{"gene":"TaHIR17","grp":"2","v":13},{"gene":"TaHIR17","grp":"2","v":17},{"gene":"TaHIR17","grp":"2","v":20},{"gene":"TaHIR17","grp":"2","v":23},{"gene":"TaHIR17","grp":"2","v":26},{"gene":"TaHIR17","grp":"2","v":30},{"gene":"TaHIR17","grp":"2","v":34},{"gene":"TaHIR17","grp":"2","v":38},{"gene":"TaHIR17","grp":"2","v":44},{"gene":"TaHIR17","grp":"2","v":63},{"gene":"TaHIR17","grp":"2","v":72},
      {"gene":"TaHIR18","grp":"1","v":11},{"gene":"TaHIR18","grp":"1","v":14},{"gene":"TaHIR18","grp":"1","v":17},{"gene":"TaHIR18","grp":"1","v":20},{"gene":"TaHIR18","grp":"1","v":23},{"gene":"TaHIR18","grp":"1","v":25},{"gene":"TaHIR18","grp":"1","v":28},{"gene":"TaHIR18","grp":"1","v":31},{"gene":"TaHIR18","grp":"1","v":35},{"gene":"TaHIR18","grp":"1","v":40},{"gene":"TaHIR18","grp":"1","v":46},{"gene":"TaHIR18","grp":"1","v":52},{"gene":"TaHIR18","grp":"1","v":57},
      {"gene":"TaHIR18","grp":"2","v":1},{"gene":"TaHIR18","grp":"2","v":12},{"gene":"TaHIR18","grp":"2","v":15},{"gene":"TaHIR18","grp":"2","v":19},{"gene":"TaHIR18","grp":"2","v":22},{"gene":"TaHIR18","grp":"2","v":25},{"gene":"TaHIR18","grp":"2","v":28},{"gene":"TaHIR18","grp":"2","v":31},{"gene":"TaHIR18","grp":"2","v":35},{"gene":"TaHIR18","grp":"2","v":40},{"gene":"TaHIR18","grp":"2","v":46},{"gene":"TaHIR18","grp":"2","v":62},{"gene":"TaHIR18","grp":"2","v":81},{"gene":"TaHIR18","grp":"2","v":83.5},
      {"gene":"TaHIR2","grp":"1","v":0},{"gene":"TaHIR2","grp":"1","v":1.5},{"gene":"TaHIR2","grp":"1","v":3},{"gene":"TaHIR2","grp":"1","v":5},{"gene":"TaHIR2","grp":"1","v":7},{"gene":"TaHIR2","grp":"1","v":9},{"gene":"TaHIR2","grp":"1","v":12},{"gene":"TaHIR2","grp":"1","v":15},{"gene":"TaHIR2","grp":"1","v":19},{"gene":"TaHIR2","grp":"1","v":24},{"gene":"TaHIR2","grp":"1","v":44},{"gene":"TaHIR2","grp":"1","v":52},{"gene":"TaHIR2","grp":"1","v":61},
      {"gene":"TaHIR2","grp":"2","v":0},{"gene":"TaHIR2","grp":"2","v":1.5},{"gene":"TaHIR2","grp":"2","v":3},{"gene":"TaHIR2","grp":"2","v":5},{"gene":"TaHIR2","grp":"2","v":7},{"gene":"TaHIR2","grp":"2","v":9},{"gene":"TaHIR2","grp":"2","v":12},{"gene":"TaHIR2","grp":"2","v":15},{"gene":"TaHIR2","grp":"2","v":19},{"gene":"TaHIR2","grp":"2","v":25},{"gene":"TaHIR2","grp":"2","v":30},{"gene":"TaHIR2","grp":"2","v":44},{"gene":"TaHIR2","grp":"2","v":55},
      {"gene":"TaHIR3","grp":"1","v":0},{"gene":"TaHIR3","grp":"1","v":1.5},{"gene":"TaHIR3","grp":"1","v":3},{"gene":"TaHIR3","grp":"1","v":5},{"gene":"TaHIR3","grp":"1","v":7},{"gene":"TaHIR3","grp":"1","v":9},{"gene":"TaHIR3","grp":"1","v":12},{"gene":"TaHIR3","grp":"1","v":15},{"gene":"TaHIR3","grp":"1","v":20},{"gene":"TaHIR3","grp":"1","v":26},{"gene":"TaHIR3","grp":"1","v":31},{"gene":"TaHIR3","grp":"1","v":49},{"gene":"TaHIR3","grp":"1","v":62},{"gene":"TaHIR3","grp":"1","v":66},
      {"gene":"TaHIR3","grp":"2","v":0},{"gene":"TaHIR3","grp":"2","v":1.5},{"gene":"TaHIR3","grp":"2","v":3},{"gene":"TaHIR3","grp":"2","v":5},{"gene":"TaHIR3","grp":"2","v":7},{"gene":"TaHIR3","grp":"2","v":9},{"gene":"TaHIR3","grp":"2","v":12},{"gene":"TaHIR3","grp":"2","v":16},{"gene":"TaHIR3","grp":"2","v":20},{"gene":"TaHIR3","grp":"2","v":26},{"gene":"TaHIR3","grp":"2","v":32},{"gene":"TaHIR3","grp":"2","v":39.6},{"gene":"TaHIR3","grp":"2","v":88.6},
      {"gene":"TaHIR4","grp":"1","v":10},{"gene":"TaHIR4","grp":"1","v":13},{"gene":"TaHIR4","grp":"1","v":16},{"gene":"TaHIR4","grp":"1","v":19},{"gene":"TaHIR4","grp":"1","v":22},{"gene":"TaHIR4","grp":"1","v":25},{"gene":"TaHIR4","grp":"1","v":28},{"gene":"TaHIR4","grp":"1","v":31},{"gene":"TaHIR4","grp":"1","v":35},{"gene":"TaHIR4","grp":"1","v":40},{"gene":"TaHIR4","grp":"1","v":46},{"gene":"TaHIR4","grp":"1","v":64},{"gene":"TaHIR4","grp":"1","v":89.6},
      {"gene":"TaHIR4","grp":"2","v":1},{"gene":"TaHIR4","grp":"2","v":12},{"gene":"TaHIR4","grp":"2","v":15},{"gene":"TaHIR4","grp":"2","v":18},{"gene":"TaHIR4","grp":"2","v":21},{"gene":"TaHIR4","grp":"2","v":24},{"gene":"TaHIR4","grp":"2","v":27},{"gene":"TaHIR4","grp":"2","v":30},{"gene":"TaHIR4","grp":"2","v":34},{"gene":"TaHIR4","grp":"2","v":38},{"gene":"TaHIR4","grp":"2","v":44},{"gene":"TaHIR4","grp":"2","v":53},{"gene":"TaHIR4","grp":"2","v":65},{"gene":"TaHIR4","grp":"2","v":80},{"gene":"TaHIR4","grp":"2","v":88},
      {"gene":"TaHIR5","grp":"1","v":30},{"gene":"TaHIR5","grp":"1","v":40},{"gene":"TaHIR5","grp":"1","v":50},{"gene":"TaHIR5","grp":"1","v":60},{"gene":"TaHIR5","grp":"1","v":70},{"gene":"TaHIR5","grp":"1","v":80},{"gene":"TaHIR5","grp":"1","v":88},{"gene":"TaHIR5","grp":"1","v":95},{"gene":"TaHIR5","grp":"1","v":102},{"gene":"TaHIR5","grp":"1","v":110},{"gene":"TaHIR5","grp":"1","v":118},{"gene":"TaHIR5","grp":"1","v":126},{"gene":"TaHIR5","grp":"1","v":136},{"gene":"TaHIR5","grp":"1","v":146},{"gene":"TaHIR5","grp":"1","v":156},{"gene":"TaHIR5","grp":"1","v":166},{"gene":"TaHIR5","grp":"1","v":172},{"gene":"TaHIR5","grp":"1","v":186.5},{"gene":"TaHIR5","grp":"1","v":202},{"gene":"TaHIR5","grp":"1","v":233},
      {"gene":"TaHIR5","grp":"2","v":39.6},{"gene":"TaHIR5","grp":"2","v":50},{"gene":"TaHIR5","grp":"2","v":60},{"gene":"TaHIR5","grp":"2","v":70},{"gene":"TaHIR5","grp":"2","v":80},{"gene":"TaHIR5","grp":"2","v":90},{"gene":"TaHIR5","grp":"2","v":98},{"gene":"TaHIR5","grp":"2","v":106},{"gene":"TaHIR5","grp":"2","v":114},{"gene":"TaHIR5","grp":"2","v":122},{"gene":"TaHIR5","grp":"2","v":130},{"gene":"TaHIR5","grp":"2","v":140},{"gene":"TaHIR5","grp":"2","v":150},{"gene":"TaHIR5","grp":"2","v":160},{"gene":"TaHIR5","grp":"2","v":170},{"gene":"TaHIR5","grp":"2","v":177},{"gene":"TaHIR5","grp":"2","v":190},{"gene":"TaHIR5","grp":"2","v":200},{"gene":"TaHIR5","grp":"2","v":220},
      {"gene":"TaHIR6","grp":"1","v":26},{"gene":"TaHIR6","grp":"1","v":36},{"gene":"TaHIR6","grp":"1","v":45},{"gene":"TaHIR6","grp":"1","v":55},{"gene":"TaHIR6","grp":"1","v":65},{"gene":"TaHIR6","grp":"1","v":72},{"gene":"TaHIR6","grp":"1","v":80},{"gene":"TaHIR6","grp":"1","v":88},{"gene":"TaHIR6","grp":"1","v":96},{"gene":"TaHIR6","grp":"1","v":104},{"gene":"TaHIR6","grp":"1","v":112},{"gene":"TaHIR6","grp":"1","v":122},{"gene":"TaHIR6","grp":"1","v":132},{"gene":"TaHIR6","grp":"1","v":142},{"gene":"TaHIR6","grp":"1","v":150},{"gene":"TaHIR6","grp":"1","v":165},{"gene":"TaHIR6","grp":"1","v":182},{"gene":"TaHIR6","grp":"1","v":187.5},{"gene":"TaHIR6","grp":"1","v":206},{"gene":"TaHIR6","grp":"1","v":209},{"gene":"TaHIR6","grp":"1","v":240},
      {"gene":"TaHIR6","grp":"2","v":10},{"gene":"TaHIR6","grp":"2","v":31},{"gene":"TaHIR6","grp":"2","v":46},{"gene":"TaHIR6","grp":"2","v":56},{"gene":"TaHIR6","grp":"2","v":66},{"gene":"TaHIR6","grp":"2","v":76},{"gene":"TaHIR6","grp":"2","v":86},{"gene":"TaHIR6","grp":"2","v":94},{"gene":"TaHIR6","grp":"2","v":102},{"gene":"TaHIR6","grp":"2","v":110},{"gene":"TaHIR6","grp":"2","v":118},{"gene":"TaHIR6","grp":"2","v":126},{"gene":"TaHIR6","grp":"2","v":136},{"gene":"TaHIR6","grp":"2","v":146},{"gene":"TaHIR6","grp":"2","v":156},{"gene":"TaHIR6","grp":"2","v":168},{"gene":"TaHIR6","grp":"2","v":180},{"gene":"TaHIR6","grp":"2","v":197},{"gene":"TaHIR6","grp":"2","v":213},{"gene":"TaHIR6","grp":"2","v":217},{"gene":"TaHIR6","grp":"2","v":221.6},{"gene":"TaHIR6","grp":"2","v":239.6},{"gene":"TaHIR6","grp":"2","v":254},{"gene":"TaHIR6","grp":"2","v":257.5},
      {"gene":"TaHIR7","grp":"1","v":7},{"gene":"TaHIR7","grp":"1","v":10},{"gene":"TaHIR7","grp":"1","v":14},{"gene":"TaHIR7","grp":"1","v":18},{"gene":"TaHIR7","grp":"1","v":21},{"gene":"TaHIR7","grp":"1","v":24},{"gene":"TaHIR7","grp":"1","v":28},{"gene":"TaHIR7","grp":"1","v":33},{"gene":"TaHIR7","grp":"1","v":38},{"gene":"TaHIR7","grp":"1","v":44},{"gene":"TaHIR7","grp":"1","v":52},{"gene":"TaHIR7","grp":"1","v":60},{"gene":"TaHIR7","grp":"1","v":70},{"gene":"TaHIR7","grp":"1","v":84},
      {"gene":"TaHIR7","grp":"2","v":6},{"gene":"TaHIR7","grp":"2","v":9},{"gene":"TaHIR7","grp":"2","v":12},{"gene":"TaHIR7","grp":"2","v":15},{"gene":"TaHIR7","grp":"2","v":18},{"gene":"TaHIR7","grp":"2","v":21},{"gene":"TaHIR7","grp":"2","v":25},{"gene":"TaHIR7","grp":"2","v":29},{"gene":"TaHIR7","grp":"2","v":33},{"gene":"TaHIR7","grp":"2","v":38},{"gene":"TaHIR7","grp":"2","v":44},{"gene":"TaHIR7","grp":"2","v":52},{"gene":"TaHIR7","grp":"2","v":96},{"gene":"TaHIR7","grp":"2","v":103.5},
      {"gene":"TaHIR8","grp":"1","v":2},{"gene":"TaHIR8","grp":"1","v":8},{"gene":"TaHIR8","grp":"1","v":16},{"gene":"TaHIR8","grp":"1","v":24},{"gene":"TaHIR8","grp":"1","v":32},{"gene":"TaHIR8","grp":"1","v":40},{"gene":"TaHIR8","grp":"1","v":48},{"gene":"TaHIR8","grp":"1","v":55},{"gene":"TaHIR8","grp":"1","v":62},{"gene":"TaHIR8","grp":"1","v":70},{"gene":"TaHIR8","grp":"1","v":78},{"gene":"TaHIR8","grp":"1","v":86},{"gene":"TaHIR8","grp":"1","v":94},{"gene":"TaHIR8","grp":"1","v":102},{"gene":"TaHIR8","grp":"1","v":110},{"gene":"TaHIR8","grp":"1","v":118},{"gene":"TaHIR8","grp":"1","v":125},{"gene":"TaHIR8","grp":"1","v":130},
      {"gene":"TaHIR8","grp":"2","v":1},{"gene":"TaHIR8","grp":"2","v":6},{"gene":"TaHIR8","grp":"2","v":14},{"gene":"TaHIR8","grp":"2","v":22},{"gene":"TaHIR8","grp":"2","v":30},{"gene":"TaHIR8","grp":"2","v":38},{"gene":"TaHIR8","grp":"2","v":46},{"gene":"TaHIR8","grp":"2","v":54},{"gene":"TaHIR8","grp":"2","v":60},{"gene":"TaHIR8","grp":"2","v":66},{"gene":"TaHIR8","grp":"2","v":74},{"gene":"TaHIR8","grp":"2","v":82},{"gene":"TaHIR8","grp":"2","v":90},{"gene":"TaHIR8","grp":"2","v":98},{"gene":"TaHIR8","grp":"2","v":106},{"gene":"TaHIR8","grp":"2","v":114},{"gene":"TaHIR8","grp":"2","v":119},{"gene":"TaHIR8","grp":"2","v":128},{"gene":"TaHIR8","grp":"2","v":152},
      {"gene":"TaHIR9","grp":"1","v":20},{"gene":"TaHIR9","grp":"1","v":28},{"gene":"TaHIR9","grp":"1","v":36},{"gene":"TaHIR9","grp":"1","v":44},{"gene":"TaHIR9","grp":"1","v":52},{"gene":"TaHIR9","grp":"1","v":60},{"gene":"TaHIR9","grp":"1","v":66},{"gene":"TaHIR9","grp":"1","v":72},{"gene":"TaHIR9","grp":"1","v":78},{"gene":"TaHIR9","grp":"1","v":85},{"gene":"TaHIR9","grp":"1","v":92},{"gene":"TaHIR9","grp":"1","v":100},{"gene":"TaHIR9","grp":"1","v":108},{"gene":"TaHIR9","grp":"1","v":116},{"gene":"TaHIR9","grp":"1","v":124},{"gene":"TaHIR9","grp":"1","v":132},{"gene":"TaHIR9","grp":"1","v":137},{"gene":"TaHIR9","grp":"1","v":146.7},{"gene":"TaHIR9","grp":"1","v":171},
      {"gene":"TaHIR9","grp":"2","v":3},{"gene":"TaHIR9","grp":"2","v":15.5},{"gene":"TaHIR9","grp":"2","v":27},{"gene":"TaHIR9","grp":"2","v":36},{"gene":"TaHIR9","grp":"2","v":46},{"gene":"TaHIR9","grp":"2","v":56},{"gene":"TaHIR9","grp":"2","v":64},{"gene":"TaHIR9","grp":"2","v":72},{"gene":"TaHIR9","grp":"2","v":80},{"gene":"TaHIR9","grp":"2","v":88},{"gene":"TaHIR9","grp":"2","v":96},{"gene":"TaHIR9","grp":"2","v":104},{"gene":"TaHIR9","grp":"2","v":112},{"gene":"TaHIR9","grp":"2","v":120},{"gene":"TaHIR9","grp":"2","v":128},{"gene":"TaHIR9","grp":"2","v":136},{"gene":"TaHIR9","grp":"2","v":143},{"gene":"TaHIR9","grp":"2","v":168},{"gene":"TaHIR9","grp":"2","v":217.5},
      {"gene":"TaPHB1","grp":"1","v":11},{"gene":"TaPHB1","grp":"1","v":17},{"gene":"TaPHB1","grp":"1","v":22},{"gene":"TaPHB1","grp":"1","v":26},{"gene":"TaPHB1","grp":"1","v":30},{"gene":"TaPHB1","grp":"1","v":33},{"gene":"TaPHB1","grp":"1","v":36},{"gene":"TaPHB1","grp":"1","v":40},{"gene":"TaPHB1","grp":"1","v":45},{"gene":"TaPHB1","grp":"1","v":50},{"gene":"TaPHB1","grp":"1","v":114.5},
      {"gene":"TaPHB1","grp":"2","v":5},{"gene":"TaPHB1","grp":"2","v":9},{"gene":"TaPHB1","grp":"2","v":22},{"gene":"TaPHB1","grp":"2","v":26},{"gene":"TaPHB1","grp":"2","v":30},{"gene":"TaPHB1","grp":"2","v":33},{"gene":"TaPHB1","grp":"2","v":36},{"gene":"TaPHB1","grp":"2","v":40},{"gene":"TaPHB1","grp":"2","v":44},{"gene":"TaPHB1","grp":"2","v":47},{"gene":"TaPHB1","grp":"2","v":55},{"gene":"TaPHB1","grp":"2","v":67.8},{"gene":"TaPHB1","grp":"2","v":75.7},{"gene":"TaPHB1","grp":"2","v":133.5},
      {"gene":"TaPHB10","grp":"1","v":6},{"gene":"TaPHB10","grp":"1","v":9},{"gene":"TaPHB10","grp":"1","v":12},{"gene":"TaPHB10","grp":"1","v":15},{"gene":"TaPHB10","grp":"1","v":17},{"gene":"TaPHB10","grp":"1","v":19.5},{"gene":"TaPHB10","grp":"1","v":22},{"gene":"TaPHB10","grp":"1","v":25},{"gene":"TaPHB10","grp":"1","v":28},{"gene":"TaPHB10","grp":"1","v":34},{"gene":"TaPHB10","grp":"1","v":42},{"gene":"TaPHB10","grp":"1","v":54},
      {"gene":"TaPHB10","grp":"2","v":0.5},{"gene":"TaPHB10","grp":"2","v":7},{"gene":"TaPHB10","grp":"2","v":10},{"gene":"TaPHB10","grp":"2","v":13},{"gene":"TaPHB10","grp":"2","v":16},{"gene":"TaPHB10","grp":"2","v":19},{"gene":"TaPHB10","grp":"2","v":21},{"gene":"TaPHB10","grp":"2","v":24},{"gene":"TaPHB10","grp":"2","v":27},{"gene":"TaPHB10","grp":"2","v":31},{"gene":"TaPHB10","grp":"2","v":38},{"gene":"TaPHB10","grp":"2","v":45.7},
      {"gene":"TaPHB11","grp":"1","v":3.9},{"gene":"TaPHB11","grp":"1","v":8},{"gene":"TaPHB11","grp":"1","v":11},{"gene":"TaPHB11","grp":"1","v":14},{"gene":"TaPHB11","grp":"1","v":16.5},{"gene":"TaPHB11","grp":"1","v":19},{"gene":"TaPHB11","grp":"1","v":22},{"gene":"TaPHB11","grp":"1","v":25},{"gene":"TaPHB11","grp":"1","v":30},{"gene":"TaPHB11","grp":"1","v":44.7},
      {"gene":"TaPHB11","grp":"2","v":0.4},{"gene":"TaPHB11","grp":"2","v":5},{"gene":"TaPHB11","grp":"2","v":10},{"gene":"TaPHB11","grp":"2","v":13},{"gene":"TaPHB11","grp":"2","v":15.5},{"gene":"TaPHB11","grp":"2","v":18},{"gene":"TaPHB11","grp":"2","v":20},{"gene":"TaPHB11","grp":"2","v":23},{"gene":"TaPHB11","grp":"2","v":26},{"gene":"TaPHB11","grp":"2","v":32},{"gene":"TaPHB11","grp":"2","v":37.5},{"gene":"TaPHB11","grp":"2","v":41},
      {"gene":"TaPHB12","grp":"1","v":0},{"gene":"TaPHB12","grp":"1","v":1},{"gene":"TaPHB12","grp":"1","v":2},{"gene":"TaPHB12","grp":"1","v":3},{"gene":"TaPHB12","grp":"1","v":4},{"gene":"TaPHB12","grp":"1","v":5.5},{"gene":"TaPHB12","grp":"1","v":7},{"gene":"TaPHB12","grp":"1","v":9},{"gene":"TaPHB12","grp":"1","v":12},
      {"gene":"TaPHB12","grp":"2","v":0},{"gene":"TaPHB12","grp":"2","v":1},{"gene":"TaPHB12","grp":"2","v":2},{"gene":"TaPHB12","grp":"2","v":3},{"gene":"TaPHB12","grp":"2","v":4},{"gene":"TaPHB12","grp":"2","v":5.5},{"gene":"TaPHB12","grp":"2","v":7},{"gene":"TaPHB12","grp":"2","v":9},{"gene":"TaPHB12","grp":"2","v":11},{"gene":"TaPHB12","grp":"2","v":14},{"gene":"TaPHB12","grp":"2","v":24.3},
      {"gene":"TaPHB13","grp":"1","v":7},{"gene":"TaPHB13","grp":"1","v":10},{"gene":"TaPHB13","grp":"1","v":14},{"gene":"TaPHB13","grp":"1","v":18},{"gene":"TaPHB13","grp":"1","v":21},{"gene":"TaPHB13","grp":"1","v":24},{"gene":"TaPHB13","grp":"1","v":27},{"gene":"TaPHB13","grp":"1","v":31},{"gene":"TaPHB13","grp":"1","v":35},{"gene":"TaPHB13","grp":"1","v":40},{"gene":"TaPHB13","grp":"1","v":71.6},
      {"gene":"TaPHB13","grp":"2","v":6},{"gene":"TaPHB13","grp":"2","v":12},{"gene":"TaPHB13","grp":"2","v":16},{"gene":"TaPHB13","grp":"2","v":20},{"gene":"TaPHB13","grp":"2","v":23},{"gene":"TaPHB13","grp":"2","v":26},{"gene":"TaPHB13","grp":"2","v":30},{"gene":"TaPHB13","grp":"2","v":34},{"gene":"TaPHB13","grp":"2","v":38},{"gene":"TaPHB13","grp":"2","v":44},{"gene":"TaPHB13","grp":"2","v":50},{"gene":"TaPHB13","grp":"2","v":54.3},
      {"gene":"TaPHB14","grp":"1","v":1.5},{"gene":"TaPHB14","grp":"1","v":3},{"gene":"TaPHB14","grp":"1","v":5},{"gene":"TaPHB14","grp":"1","v":7},{"gene":"TaPHB14","grp":"1","v":9},{"gene":"TaPHB14","grp":"1","v":11},{"gene":"TaPHB14","grp":"1","v":14},{"gene":"TaPHB14","grp":"1","v":18},{"gene":"TaPHB14","grp":"1","v":22},{"gene":"TaPHB14","grp":"1","v":26.3},
      {"gene":"TaPHB14","grp":"2","v":2},{"gene":"TaPHB14","grp":"2","v":4},{"gene":"TaPHB14","grp":"2","v":6},{"gene":"TaPHB14","grp":"2","v":8},{"gene":"TaPHB14","grp":"2","v":10},{"gene":"TaPHB14","grp":"2","v":12},{"gene":"TaPHB14","grp":"2","v":15},{"gene":"TaPHB14","grp":"2","v":19},{"gene":"TaPHB14","grp":"2","v":23},{"gene":"TaPHB14","grp":"2","v":26},{"gene":"TaPHB14","grp":"2","v":29.8},
      {"gene":"TaPHB2","grp":"1","v":3},{"gene":"TaPHB2","grp":"1","v":6},{"gene":"TaPHB2","grp":"1","v":9},{"gene":"TaPHB2","grp":"1","v":12},{"gene":"TaPHB2","grp":"1","v":15},{"gene":"TaPHB2","grp":"1","v":18},{"gene":"TaPHB2","grp":"1","v":21},{"gene":"TaPHB2","grp":"1","v":25},{"gene":"TaPHB2","grp":"1","v":29},{"gene":"TaPHB2","grp":"1","v":33},{"gene":"TaPHB2","grp":"1","v":36.5},
      {"gene":"TaPHB2","grp":"2","v":3},{"gene":"TaPHB2","grp":"2","v":6},{"gene":"TaPHB2","grp":"2","v":10},{"gene":"TaPHB2","grp":"2","v":14},{"gene":"TaPHB2","grp":"2","v":18},{"gene":"TaPHB2","grp":"2","v":22},{"gene":"TaPHB2","grp":"2","v":26},{"gene":"TaPHB2","grp":"2","v":31},{"gene":"TaPHB2","grp":"2","v":36},{"gene":"TaPHB2","grp":"2","v":42},{"gene":"TaPHB2","grp":"2","v":45.7},{"gene":"TaPHB2","grp":"2","v":49.4},{"gene":"TaPHB2","grp":"2","v":319.5},
      {"gene":"TaPHB3","grp":"1","v":2},{"gene":"TaPHB3","grp":"1","v":5},{"gene":"TaPHB3","grp":"1","v":8},{"gene":"TaPHB3","grp":"1","v":11},{"gene":"TaPHB3","grp":"1","v":13},{"gene":"TaPHB3","grp":"1","v":15},{"gene":"TaPHB3","grp":"1","v":18},{"gene":"TaPHB3","grp":"1","v":22},{"gene":"TaPHB3","grp":"1","v":26},{"gene":"TaPHB3","grp":"1","v":31.4},
      {"gene":"TaPHB3","grp":"2","v":3},{"gene":"TaPHB3","grp":"2","v":6},{"gene":"TaPHB3","grp":"2","v":9},{"gene":"TaPHB3","grp":"2","v":12},{"gene":"TaPHB3","grp":"2","v":15},{"gene":"TaPHB3","grp":"2","v":18},{"gene":"TaPHB3","grp":"2","v":22},{"gene":"TaPHB3","grp":"2","v":26},{"gene":"TaPHB3","grp":"2","v":30},{"gene":"TaPHB3","grp":"2","v":35.5},{"gene":"TaPHB3","grp":"2","v":189},
      {"gene":"TaPHB4","grp":"1","v":1.5},{"gene":"TaPHB4","grp":"1","v":4},{"gene":"TaPHB4","grp":"1","v":7},{"gene":"TaPHB4","grp":"1","v":10},{"gene":"TaPHB4","grp":"1","v":12},{"gene":"TaPHB4","grp":"1","v":15},{"gene":"TaPHB4","grp":"1","v":19},{"gene":"TaPHB4","grp":"1","v":23},{"gene":"TaPHB4","grp":"1","v":27},{"gene":"TaPHB4","grp":"1","v":29.8},
      {"gene":"TaPHB4","grp":"2","v":2},{"gene":"TaPHB4","grp":"2","v":5},{"gene":"TaPHB4","grp":"2","v":8},{"gene":"TaPHB4","grp":"2","v":11},{"gene":"TaPHB4","grp":"2","v":14},{"gene":"TaPHB4","grp":"2","v":17},{"gene":"TaPHB4","grp":"2","v":21},{"gene":"TaPHB4","grp":"2","v":25},{"gene":"TaPHB4","grp":"2","v":29},{"gene":"TaPHB4","grp":"2","v":31.8},{"gene":"TaPHB4","grp":"2","v":42},{"gene":"TaPHB4","grp":"2","v":357},
      {"gene":"TaPHB5","grp":"1","v":0.3},{"gene":"TaPHB5","grp":"1","v":1.8},{"gene":"TaPHB5","grp":"1","v":3.5},{"gene":"TaPHB5","grp":"1","v":4.3},
      {"gene":"TaPHB5","grp":"2","v":0.3},{"gene":"TaPHB5","grp":"2","v":1.8},{"gene":"TaPHB5","grp":"2","v":3.5},{"gene":"TaPHB5","grp":"2","v":4.3},
      {"gene":"TaPHB6","grp":"1","v":1},{"gene":"TaPHB6","grp":"1","v":2},{"gene":"TaPHB6","grp":"1","v":3},{"gene":"TaPHB6","grp":"1","v":4},{"gene":"TaPHB6","grp":"1","v":5},{"gene":"TaPHB6","grp":"1","v":6.5},{"gene":"TaPHB6","grp":"1","v":8},{"gene":"TaPHB6","grp":"1","v":10},{"gene":"TaPHB6","grp":"1","v":12},{"gene":"TaPHB6","grp":"1","v":14},{"gene":"TaPHB6","grp":"1","v":17},{"gene":"TaPHB6","grp":"1","v":50.4},
      {"gene":"TaPHB6","grp":"2","v":0.5},{"gene":"TaPHB6","grp":"2","v":1.5},{"gene":"TaPHB6","grp":"2","v":3},{"gene":"TaPHB6","grp":"2","v":4.5},{"gene":"TaPHB6","grp":"2","v":6},{"gene":"TaPHB6","grp":"2","v":8},{"gene":"TaPHB6","grp":"2","v":10},{"gene":"TaPHB6","grp":"2","v":12},{"gene":"TaPHB6","grp":"2","v":14},{"gene":"TaPHB6","grp":"2","v":16},{"gene":"TaPHB6","grp":"2","v":19},
      {"gene":"TaPHB7","grp":"1","v":0},{"gene":"TaPHB7","grp":"1","v":0.6},{"gene":"TaPHB7","grp":"1","v":1},
      {"gene":"TaPHB7","grp":"2","v":0},{"gene":"TaPHB7","grp":"2","v":0.6},{"gene":"TaPHB7","grp":"2","v":1},{"gene":"TaPHB7","grp":"2","v":22.9},
      {"gene":"TaPHB8","grp":"1","v":14},{"gene":"TaPHB8","grp":"1","v":20},{"gene":"TaPHB8","grp":"1","v":26},{"gene":"TaPHB8","grp":"1","v":32},{"gene":"TaPHB8","grp":"1","v":38},{"gene":"TaPHB8","grp":"1","v":44},{"gene":"TaPHB8","grp":"1","v":48},{"gene":"TaPHB8","grp":"1","v":52},{"gene":"TaPHB8","grp":"1","v":58},{"gene":"TaPHB8","grp":"1","v":64},{"gene":"TaPHB8","grp":"1","v":70},{"gene":"TaPHB8","grp":"1","v":75},{"gene":"TaPHB8","grp":"1","v":141},
      {"gene":"TaPHB8","grp":"2","v":16},{"gene":"TaPHB8","grp":"2","v":22},{"gene":"TaPHB8","grp":"2","v":28},{"gene":"TaPHB8","grp":"2","v":34},{"gene":"TaPHB8","grp":"2","v":40},{"gene":"TaPHB8","grp":"2","v":46},{"gene":"TaPHB8","grp":"2","v":50},{"gene":"TaPHB8","grp":"2","v":55},{"gene":"TaPHB8","grp":"2","v":60},{"gene":"TaPHB8","grp":"2","v":66},{"gene":"TaPHB8","grp":"2","v":72},{"gene":"TaPHB8","grp":"2","v":79},{"gene":"TaPHB8","grp":"2","v":94.7},{"gene":"TaPHB8","grp":"2","v":103},{"gene":"TaPHB8","grp":"2","v":114.5},{"gene":"TaPHB8","grp":"2","v":138.6},
      {"gene":"TaPHB9","grp":"1","v":17},{"gene":"TaPHB9","grp":"1","v":22},{"gene":"TaPHB9","grp":"1","v":27},{"gene":"TaPHB9","grp":"1","v":31},{"gene":"TaPHB9","grp":"1","v":35},{"gene":"TaPHB9","grp":"1","v":38},{"gene":"TaPHB9","grp":"1","v":41},{"gene":"TaPHB9","grp":"1","v":45},{"gene":"TaPHB9","grp":"1","v":50},{"gene":"TaPHB9","grp":"1","v":55},{"gene":"TaPHB9","grp":"1","v":57},{"gene":"TaPHB9","grp":"1","v":64},{"gene":"TaPHB9","grp":"1","v":159.6},
      {"gene":"TaPHB9","grp":"2","v":2.9},{"gene":"TaPHB9","grp":"2","v":18},{"gene":"TaPHB9","grp":"2","v":24},{"gene":"TaPHB9","grp":"2","v":29},{"gene":"TaPHB9","grp":"2","v":33},{"gene":"TaPHB9","grp":"2","v":37},{"gene":"TaPHB9","grp":"2","v":40},{"gene":"TaPHB9","grp":"2","v":44},{"gene":"TaPHB9","grp":"2","v":49},{"gene":"TaPHB9","grp":"2","v":54},{"gene":"TaPHB9","grp":"2","v":58},{"gene":"TaPHB9","grp":"2","v":62},{"gene":"TaPHB9","grp":"2","v":76.3},{"gene":"TaPHB9","grp":"2","v":86},{"gene":"TaPHB9","grp":"2","v":155.5},
      {"gene":"TaSLP10","grp":"1","v":2},{"gene":"TaSLP10","grp":"1","v":3.5},{"gene":"TaSLP10","grp":"1","v":5},{"gene":"TaSLP10","grp":"1","v":6},{"gene":"TaSLP10","grp":"1","v":7},{"gene":"TaSLP10","grp":"1","v":8.5},{"gene":"TaSLP10","grp":"1","v":10},{"gene":"TaSLP10","grp":"1","v":12},{"gene":"TaSLP10","grp":"1","v":13.5},
      {"gene":"TaSLP10","grp":"2","v":2},{"gene":"TaSLP10","grp":"2","v":3.5},{"gene":"TaSLP10","grp":"2","v":5},{"gene":"TaSLP10","grp":"2","v":6},{"gene":"TaSLP10","grp":"2","v":7},{"gene":"TaSLP10","grp":"2","v":8.5},{"gene":"TaSLP10","grp":"2","v":10},{"gene":"TaSLP10","grp":"2","v":12},{"gene":"TaSLP10","grp":"2","v":14},
      {"gene":"TaSLP11","grp":"1","v":2.5},{"gene":"TaSLP11","grp":"1","v":4},{"gene":"TaSLP11","grp":"1","v":5},{"gene":"TaSLP11","grp":"1","v":6},{"gene":"TaSLP11","grp":"1","v":7.5},{"gene":"TaSLP11","grp":"1","v":9},{"gene":"TaSLP11","grp":"1","v":11},{"gene":"TaSLP11","grp":"1","v":13},{"gene":"TaSLP11","grp":"1","v":14},
      {"gene":"TaSLP11","grp":"2","v":2},{"gene":"TaSLP11","grp":"2","v":3.5},{"gene":"TaSLP11","grp":"2","v":5},{"gene":"TaSLP11","grp":"2","v":6.5},{"gene":"TaSLP11","grp":"2","v":8},{"gene":"TaSLP11","grp":"2","v":10},{"gene":"TaSLP11","grp":"2","v":12},{"gene":"TaSLP11","grp":"2","v":14},{"gene":"TaSLP11","grp":"2","v":17.6},
      {"gene":"TaSLP12","grp":"1","v":4},{"gene":"TaSLP12","grp":"1","v":5.5},{"gene":"TaSLP12","grp":"1","v":7},{"gene":"TaSLP12","grp":"1","v":8},{"gene":"TaSLP12","grp":"1","v":9},{"gene":"TaSLP12","grp":"1","v":10.5},{"gene":"TaSLP12","grp":"1","v":12},{"gene":"TaSLP12","grp":"1","v":14},{"gene":"TaSLP12","grp":"1","v":16},
      {"gene":"TaSLP12","grp":"2","v":0.4},{"gene":"TaSLP12","grp":"2","v":4},{"gene":"TaSLP12","grp":"2","v":5.5},{"gene":"TaSLP12","grp":"2","v":7},{"gene":"TaSLP12","grp":"2","v":8},{"gene":"TaSLP12","grp":"2","v":9.5},{"gene":"TaSLP12","grp":"2","v":11},{"gene":"TaSLP12","grp":"2","v":13},{"gene":"TaSLP12","grp":"2","v":15},{"gene":"TaSLP12","grp":"2","v":17},
      {"gene":"TaSLP2","grp":"1","v":0},{"gene":"TaSLP2","grp":"1","v":3},{"gene":"TaSLP2","grp":"1","v":6},{"gene":"TaSLP2","grp":"1","v":9},{"gene":"TaSLP2","grp":"1","v":12},{"gene":"TaSLP2","grp":"1","v":15},{"gene":"TaSLP2","grp":"1","v":18},{"gene":"TaSLP2","grp":"1","v":21},{"gene":"TaSLP2","grp":"1","v":25},{"gene":"TaSLP2","grp":"1","v":29},{"gene":"TaSLP2","grp":"1","v":33.5},{"gene":"TaSLP2","grp":"1","v":38.6},
      {"gene":"TaSLP2","grp":"2","v":0},{"gene":"TaSLP2","grp":"2","v":3},{"gene":"TaSLP2","grp":"2","v":6},{"gene":"TaSLP2","grp":"2","v":9},{"gene":"TaSLP2","grp":"2","v":12},{"gene":"TaSLP2","grp":"2","v":15},{"gene":"TaSLP2","grp":"2","v":18},{"gene":"TaSLP2","grp":"2","v":22},{"gene":"TaSLP2","grp":"2","v":26},{"gene":"TaSLP2","grp":"2","v":30},{"gene":"TaSLP2","grp":"2","v":42},
      {"gene":"TaSLP3","grp":"1","v":0},{"gene":"TaSLP3","grp":"1","v":3},{"gene":"TaSLP3","grp":"1","v":6},{"gene":"TaSLP3","grp":"1","v":9},{"gene":"TaSLP3","grp":"1","v":12},{"gene":"TaSLP3","grp":"1","v":15},{"gene":"TaSLP3","grp":"1","v":18},{"gene":"TaSLP3","grp":"1","v":22},{"gene":"TaSLP3","grp":"1","v":26},{"gene":"TaSLP3","grp":"1","v":30},{"gene":"TaSLP3","grp":"1","v":34},{"gene":"TaSLP3","grp":"1","v":37.5},{"gene":"TaSLP3","grp":"1","v":41},{"gene":"TaSLP3","grp":"1","v":45},
      {"gene":"TaSLP3","grp":"2","v":0},{"gene":"TaSLP3","grp":"2","v":3},{"gene":"TaSLP3","grp":"2","v":6},{"gene":"TaSLP3","grp":"2","v":9},{"gene":"TaSLP3","grp":"2","v":12},{"gene":"TaSLP3","grp":"2","v":15},{"gene":"TaSLP3","grp":"2","v":18},{"gene":"TaSLP3","grp":"2","v":22},{"gene":"TaSLP3","grp":"2","v":26},{"gene":"TaSLP3","grp":"2","v":30},{"gene":"TaSLP3","grp":"2","v":35},{"gene":"TaSLP3","grp":"2","v":40},{"gene":"TaSLP3","grp":"2","v":49.2},
      {"gene":"TaSLP4","grp":"1","v":0.8},{"gene":"TaSLP4","grp":"1","v":11},{"gene":"TaSLP4","grp":"1","v":12.5},{"gene":"TaSLP4","grp":"1","v":14},{"gene":"TaSLP4","grp":"1","v":15.5},{"gene":"TaSLP4","grp":"1","v":17},{"gene":"TaSLP4","grp":"1","v":19},{"gene":"TaSLP4","grp":"1","v":22},{"gene":"TaSLP4","grp":"1","v":25},{"gene":"TaSLP4","grp":"1","v":28.4},
      {"gene":"TaSLP4","grp":"2","v":0.8},{"gene":"TaSLP4","grp":"2","v":11},{"gene":"TaSLP4","grp":"2","v":12.5},{"gene":"TaSLP4","grp":"2","v":14},{"gene":"TaSLP4","grp":"2","v":15.5},{"gene":"TaSLP4","grp":"2","v":17},{"gene":"TaSLP4","grp":"2","v":19},{"gene":"TaSLP4","grp":"2","v":22},{"gene":"TaSLP4","grp":"2","v":25},{"gene":"TaSLP4","grp":"2","v":27.3},
      {"gene":"TaSLP5","grp":"1","v":1},{"gene":"TaSLP5","grp":"1","v":2.5},{"gene":"TaSLP5","grp":"1","v":4},{"gene":"TaSLP5","grp":"1","v":5.5},{"gene":"TaSLP5","grp":"1","v":7},{"gene":"TaSLP5","grp":"1","v":8.5},{"gene":"TaSLP5","grp":"1","v":10.5},{"gene":"TaSLP5","grp":"1","v":12.5},{"gene":"TaSLP5","grp":"1","v":15},
      {"gene":"TaSLP5","grp":"2","v":1},{"gene":"TaSLP5","grp":"2","v":2.5},{"gene":"TaSLP5","grp":"2","v":4},{"gene":"TaSLP5","grp":"2","v":5.5},{"gene":"TaSLP5","grp":"2","v":7},{"gene":"TaSLP5","grp":"2","v":8.5},{"gene":"TaSLP5","grp":"2","v":10.5},{"gene":"TaSLP5","grp":"2","v":12.5},{"gene":"TaSLP5","grp":"2","v":14.5},
      {"gene":"TaSLP6","grp":"1","v":0.5},{"gene":"TaSLP6","grp":"1","v":5},{"gene":"TaSLP6","grp":"1","v":7.5},{"gene":"TaSLP6","grp":"1","v":9.5},{"gene":"TaSLP6","grp":"1","v":11.5},{"gene":"TaSLP6","grp":"1","v":13.5},{"gene":"TaSLP6","grp":"1","v":16},{"gene":"TaSLP6","grp":"1","v":19},{"gene":"TaSLP6","grp":"1","v":22},{"gene":"TaSLP6","grp":"1","v":25},{"gene":"TaSLP6","grp":"1","v":27},
      {"gene":"TaSLP6","grp":"2","v":0.5},{"gene":"TaSLP6","grp":"2","v":4.5},{"gene":"TaSLP6","grp":"2","v":7},{"gene":"TaSLP6","grp":"2","v":9.5},{"gene":"TaSLP6","grp":"2","v":11.5},{"gene":"TaSLP6","grp":"2","v":13.5},{"gene":"TaSLP6","grp":"2","v":16},{"gene":"TaSLP6","grp":"2","v":19},{"gene":"TaSLP6","grp":"2","v":22},{"gene":"TaSLP6","grp":"2","v":25.4},
      {"gene":"TaSLP7","grp":"1","v":9},{"gene":"TaSLP7","grp":"1","v":11},{"gene":"TaSLP7","grp":"1","v":13},{"gene":"TaSLP7","grp":"1","v":14.5},{"gene":"TaSLP7","grp":"1","v":16},{"gene":"TaSLP7","grp":"1","v":18},{"gene":"TaSLP7","grp":"1","v":20},{"gene":"TaSLP7","grp":"1","v":22.5},{"gene":"TaSLP7","grp":"1","v":25.4},
      {"gene":"TaSLP7","grp":"2","v":0.6},{"gene":"TaSLP7","grp":"2","v":9},{"gene":"TaSLP7","grp":"2","v":11},{"gene":"TaSLP7","grp":"2","v":13},{"gene":"TaSLP7","grp":"2","v":14.5},{"gene":"TaSLP7","grp":"2","v":16},{"gene":"TaSLP7","grp":"2","v":18},{"gene":"TaSLP7","grp":"2","v":20},{"gene":"TaSLP7","grp":"2","v":22.5},{"gene":"TaSLP7","grp":"2","v":25},
      {"gene":"TaSLP8","grp":"1","v":0},{"gene":"TaSLP8","grp":"1","v":1.2},{"gene":"TaSLP8","grp":"1","v":2.5},{"gene":"TaSLP8","grp":"1","v":3.5},
      {"gene":"TaSLP8","grp":"2","v":0},{"gene":"TaSLP8","grp":"2","v":1.2},{"gene":"TaSLP8","grp":"2","v":2.5},{"gene":"TaSLP8","grp":"2","v":3.5},
      {"gene":"TaSLP9","grp":"1","v":0},{"gene":"TaSLP9","grp":"1","v":0.8},{"gene":"TaSLP9","grp":"1","v":1.8},
      {"gene":"TaSLP9","grp":"2","v":0},{"gene":"TaSLP9","grp":"2","v":0.8},{"gene":"TaSLP9","grp":"2","v":1.8}
    ]
  },
  "layer": [
    {
      "data": {"name": "families"},
      "mark": {"type": "rect"},
      "encoding": {
        "x": {
          "field": "first",
          "type": "nominal",
          "bandPosition": 0,
          "title": null,
          "scale": {
            "domain": ["TaELP1","TaELP2","TaELP3","TaFlot11","TaFlot12","TaFlot13","TaFlot4","TaHIR1","TaHIR10","TaHIR11","TaHIR12","TaHIR13","TaHIR14","TaHIR15","TaHIR16","TaHIR17","TaHIR18","TaHIR2","TaHIR3","TaHIR4","TaHIR5","TaHIR6","TaHIR7","TaHIR8","TaHIR9","TaPHB1","TaPHB10","TaPHB11","TaPHB12","TaPHB13","TaPHB14","TaPHB2","TaPHB3","TaPHB4","TaPHB5","TaPHB6","TaPHB7","TaPHB8","TaPHB9","TaSLP10","TaSLP11","TaSLP12","TaSLP2","TaSLP3","TaSLP4","TaSLP5","TaSLP6","TaSLP7","TaSLP8","TaSLP9"],
            "paddingInner": 0.2,
            "paddingOuter": 0.2
          }
        },
        "x2": {"field": "last", "bandPosition": 1},
        "y": {"datum": -11.5, "type": "quantitative"},
        "y2": {"datum": 376},
        "fill": {
          "field": "family",
          "type": "nominal",
          "scale": {"domain": ["ELP", "Flot", "HIR", "PHB", "SLP"], "range": ["#E4E5F2", "#EBD3E1", "#F5E2D3", "#F7EDCD", "#F0F5E2"]},
          "legend": null
        }
      }
    },
    {
      "data": {"name": "families"},
      "transform": [{"filter": "datum.family !== 'SLP'"}],
      "mark": {"type": "rule", "color": "#62B23E", "strokeWidth": 4, "strokeDash": [44, 44]},
      "encoding": {
        "x": {"field": "last", "type": "nominal", "bandPosition": 1.125}
      }
    },
    {
      "data": {"name": "boxes"},
      "mark": {"type": "bar", "width": {"band": 0.96}},
      "encoding": {
        "x": {"field": "gene", "type": "nominal"},
        "xOffset": {"field": "grp", "type": "nominal", "scale": {"paddingInner": 0, "paddingOuter": 0}},
        "y": {
          "field": "q1",
          "type": "quantitative",
          "scale": {"domain": [-17.8, 376], "nice": false, "zero": false},
          "axis": {"values": [0, 100, 200, 300], "title": ["基因表达量", "Gene expression level"]}
        },
        "y2": {"field": "q3"},
        "color": {"field": "grp", "type": "nominal", "scale": {"domain": ["1", "2"], "range": ["#EFA43A", "#5C9A48"]}, "legend": null}
      }
    },
    {
      "data": {"name": "points"},
      "mark": {"type": "circle", "size": 190, "opacity": 0.7},
      "encoding": {
        "x": {"field": "gene", "type": "nominal"},
        "xOffset": {"field": "grp", "type": "nominal"},
        "y": {"field": "v", "type": "quantitative"},
        "color": {"field": "grp", "type": "nominal", "legend": null}
      }
    },
    {
      "data": {"name": "boxes"},
      "mark": {"type": "rule", "color": "#1A1A1A", "strokeWidth": 4.5},
      "encoding": {
        "x": {"field": "gene", "type": "nominal"},
        "xOffset": {"field": "grp", "type": "nominal"},
        "y": {"field": "lo", "type": "quantitative"},
        "y2": {"field": "q1"}
      }
    },
    {
      "data": {"name": "boxes"},
      "mark": {"type": "rule", "color": "#1A1A1A", "strokeWidth": 4.5},
      "encoding": {
        "x": {"field": "gene", "type": "nominal"},
        "xOffset": {"field": "grp", "type": "nominal"},
        "y": {"field": "q3", "type": "quantitative"},
        "y2": {"field": "hi"}
      }
    },
    {
      "data": {"name": "boxes"},
      "mark": {"type": "bar", "width": {"band": 0.96}, "fillOpacity": 0, "stroke": "#1A1A1A", "strokeWidth": 3},
      "encoding": {
        "x": {"field": "gene", "type": "nominal"},
        "xOffset": {"field": "grp", "type": "nominal"},
        "y": {"field": "q1", "type": "quantitative"},
        "y2": {"field": "q3"}
      }
    },
    {
      "data": {"name": "boxes"},
      "mark": {"type": "tick", "color": "#1A1A1A", "thickness": 8, "size": 27, "opacity": 1},
      "encoding": {
        "x": {"field": "gene", "type": "nominal"},
        "xOffset": {"field": "grp", "type": "nominal"},
        "y": {"field": "med", "type": "quantitative"}
      }
    },
    {
      "data": {"name": "sig"},
      "mark": {"type": "text", "font": "Liberation Serif", "fontSize": 48, "color": "#1A1A1A", "baseline": "alphabetic", "align": "center"},
      "encoding": {
        "x": {"field": "gene", "type": "nominal"},
        "y": {"field": "y", "type": "quantitative"},
        "text": {"field": "label"}
      }
    },
    {
      "data": {"name": "families"},
      "transform": [{"filter": "datum.family === 'ELP' || datum.family === 'SLP'"}],
      "mark": {"type": "text", "font": "Liberation Serif", "fontSize": 72, "color": "#1A1A1A", "baseline": "alphabetic", "align": "center"},
      "encoding": {
        "x": {"field": "mid", "type": "nominal", "bandPosition": 0.5},
        "y": {"datum": 339},
        "text": {"field": "family"}
      }
    },
    {
      "data": {"name": "families"},
      "transform": [{"filter": "datum.family !== 'ELP' && datum.family !== 'SLP'"}],
      "mark": {"type": "text", "font": "Liberation Serif", "fontSize": 72, "color": "#1A1A1A", "baseline": "alphabetic", "align": "center"},
      "encoding": {
        "x": {"field": "mid", "type": "nominal", "bandPosition": 0.82},
        "y": {"datum": 339},
        "text": {"field": "family"}
      }
    }
  ],
  "config": {
    "view": {"stroke": null},
    "font": "Liberation Serif",
    "axis": {
      "grid": false,
      "domainColor": "#1A1A1A",
      "domainWidth": 3.5,
      "tickColor": "#1A1A1A",
      "tickWidth": 3.5,
      "labelColor": "#1A1A1A",
      "labelFont": "Liberation Serif",
      "titleColor": "#1A1A1A",
      "labelOverlap": false,
      "labelFlush": false,
      "labelBound": false,
      "labelLimit": 0
    },
    "axisX": {
      "labelAngle": 270,
      "labelAlign": "left",
      "labelBaseline": "middle",
      "labelFontSize": 56,
      "labelFontStyle": "italic",
      "tickSize": 12,
      "labelPadding": 219
    },
    "axisY": {
      "labelFontSize": 64,
      "tickSize": 12,
      "labelPadding": 16,
      "titleFont": "Liberation Serif, Noto Sans CJK SC",
      "titleFontSize": 67,
      "titleFontWeight": "normal",
      "titleLineHeight": 86,
      "titleAngle": 270,
      "titleAlign": "center",
      "titleBaseline": "alphabetic",
      "titleX": -250,
      "titleY": 823
    }
  }
}
